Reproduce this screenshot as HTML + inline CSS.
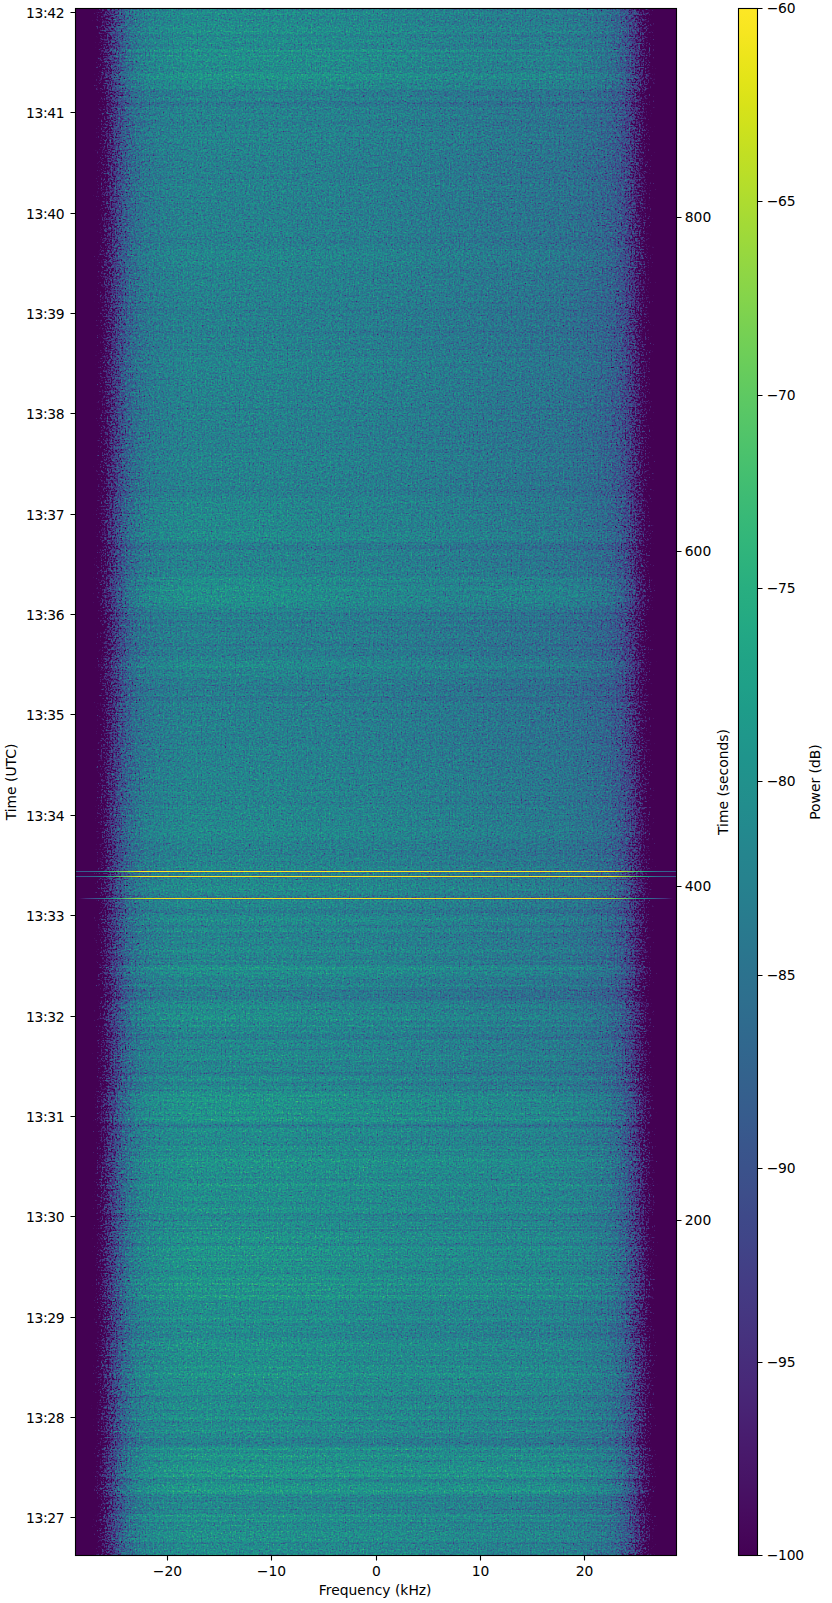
<!DOCTYPE html>
<html lang="en"><head><meta charset="utf-8"><title>Spectrogram</title>
<style>
html,body{margin:0;padding:0;background:#fff}
body{width:832px;height:1603px;position:relative;overflow:hidden;font-family:"DejaVu Sans","Liberation Sans",sans-serif;font-size:13.889px;color:#000}
.t{position:absolute;white-space:nowrap;line-height:16px;height:16px}
.yl{text-align:right;width:60px;left:4.4px;letter-spacing:-0.3px}
.yr{left:684.7px;letter-spacing:0.1px}
.cb{left:766.8px;letter-spacing:-0.3px}
.xl{text-align:center;width:60px}
.rot{transform:rotate(-90deg);transform-origin:center center;text-align:center;width:200px}
svg{position:absolute;left:0;top:0}
</style></head><body>
<svg width="832" height="1603" viewBox="0 0 832 1603">
<defs>
<linearGradient id="hg" gradientUnits="userSpaceOnUse" x1="76" y1="0" x2="676" y2="0">
<stop offset="0.00000" stop-color="rgb(0,0,242)"/><stop offset="0.00167" stop-color="rgb(0,0,242)"/><stop offset="0.00333" stop-color="rgb(0,0,242)"/><stop offset="0.00500" stop-color="rgb(0,0,242)"/><stop offset="0.00667" stop-color="rgb(1,0,242)"/><stop offset="0.00833" stop-color="rgb(2,0,242)"/><stop offset="0.01000" stop-color="rgb(3,0,242)"/><stop offset="0.01167" stop-color="rgb(4,0,242)"/><stop offset="0.01333" stop-color="rgb(5,0,242)"/><stop offset="0.01500" stop-color="rgb(9,0,242)"/><stop offset="0.01667" stop-color="rgb(14,0,242)"/><stop offset="0.01833" stop-color="rgb(19,0,242)"/><stop offset="0.02000" stop-color="rgb(24,0,242)"/><stop offset="0.02167" stop-color="rgb(28,0,242)"/><stop offset="0.02333" stop-color="rgb(34,0,242)"/><stop offset="0.02500" stop-color="rgb(39,0,242)"/><stop offset="0.02667" stop-color="rgb(44,0,242)"/><stop offset="0.02833" stop-color="rgb(50,0,242)"/><stop offset="0.03000" stop-color="rgb(54,0,242)"/><stop offset="0.03167" stop-color="rgb(58,0,242)"/><stop offset="0.03333" stop-color="rgb(63,0,242)"/><stop offset="0.03500" stop-color="rgb(67,0,242)"/><stop offset="0.03667" stop-color="rgb(71,0,242)"/><stop offset="0.03833" stop-color="rgb(75,0,242)"/><stop offset="0.04000" stop-color="rgb(78,0,242)"/><stop offset="0.04167" stop-color="rgb(81,0,242)"/><stop offset="0.04333" stop-color="rgb(84,0,242)"/><stop offset="0.04500" stop-color="rgb(87,0,242)"/><stop offset="0.04667" stop-color="rgb(90,0,242)"/><stop offset="0.04833" stop-color="rgb(93,0,242)"/><stop offset="0.05000" stop-color="rgb(95,0,242)"/><stop offset="0.05167" stop-color="rgb(99,0,240)"/><stop offset="0.05333" stop-color="rgb(103,0,237)"/><stop offset="0.05500" stop-color="rgb(106,0,235)"/><stop offset="0.05667" stop-color="rgb(110,0,232)"/><stop offset="0.05833" stop-color="rgb(113,0,230)"/><stop offset="0.06000" stop-color="rgb(117,0,227)"/><stop offset="0.06167" stop-color="rgb(120,0,224)"/><stop offset="0.06333" stop-color="rgb(123,0,222)"/><stop offset="0.06500" stop-color="rgb(127,0,219)"/><stop offset="0.06667" stop-color="rgb(130,0,217)"/><stop offset="0.06833" stop-color="rgb(133,0,214)"/><stop offset="0.07000" stop-color="rgb(137,0,212)"/><stop offset="0.07167" stop-color="rgb(140,0,209)"/><stop offset="0.07333" stop-color="rgb(142,0,207)"/><stop offset="0.07500" stop-color="rgb(145,0,204)"/><stop offset="0.07667" stop-color="rgb(148,0,201)"/><stop offset="0.07833" stop-color="rgb(151,0,198)"/><stop offset="0.08000" stop-color="rgb(154,0,195)"/><stop offset="0.08167" stop-color="rgb(157,0,192)"/><stop offset="0.08333" stop-color="rgb(160,0,189)"/><stop offset="0.08500" stop-color="rgb(162,0,186)"/><stop offset="0.08667" stop-color="rgb(165,0,183)"/><stop offset="0.08833" stop-color="rgb(168,0,180)"/><stop offset="0.09000" stop-color="rgb(170,0,177)"/><stop offset="0.09167" stop-color="rgb(172,0,174)"/><stop offset="0.09333" stop-color="rgb(174,0,171)"/><stop offset="0.09500" stop-color="rgb(177,0,168)"/><stop offset="0.09667" stop-color="rgb(179,0,165)"/><stop offset="0.09833" stop-color="rgb(180,0,162)"/><stop offset="0.10000" stop-color="rgb(182,0,159)"/><stop offset="0.10167" stop-color="rgb(184,0,158)"/><stop offset="0.10333" stop-color="rgb(185,0,157)"/><stop offset="0.10500" stop-color="rgb(186,0,156)"/><stop offset="0.10667" stop-color="rgb(187,0,154)"/><stop offset="0.10833" stop-color="rgb(188,0,153)"/><stop offset="0.11000" stop-color="rgb(189,0,152)"/><stop offset="0.11167" stop-color="rgb(190,0,150)"/><stop offset="0.11333" stop-color="rgb(191,0,149)"/><stop offset="0.11500" stop-color="rgb(192,0,148)"/><stop offset="0.11667" stop-color="rgb(193,0,147)"/><stop offset="0.11833" stop-color="rgb(194,0,145)"/><stop offset="0.12000" stop-color="rgb(195,0,144)"/><stop offset="0.12167" stop-color="rgb(195,0,143)"/><stop offset="0.12333" stop-color="rgb(196,0,142)"/><stop offset="0.12500" stop-color="rgb(197,0,140)"/><stop offset="0.12667" stop-color="rgb(198,0,139)"/><stop offset="0.12833" stop-color="rgb(198,0,138)"/><stop offset="0.13000" stop-color="rgb(199,0,136)"/><stop offset="0.13167" stop-color="rgb(200,0,135)"/><stop offset="0.13333" stop-color="rgb(200,0,134)"/><stop offset="0.13500" stop-color="rgb(201,0,134)"/><stop offset="0.13667" stop-color="rgb(201,0,133)"/><stop offset="0.13833" stop-color="rgb(202,0,133)"/><stop offset="0.14000" stop-color="rgb(202,0,133)"/><stop offset="0.14167" stop-color="rgb(202,0,132)"/><stop offset="0.14333" stop-color="rgb(202,0,132)"/><stop offset="0.14500" stop-color="rgb(203,0,132)"/><stop offset="0.14667" stop-color="rgb(203,0,131)"/><stop offset="0.14833" stop-color="rgb(203,0,131)"/><stop offset="0.15000" stop-color="rgb(203,0,131)"/><stop offset="0.15167" stop-color="rgb(204,0,130)"/><stop offset="0.15333" stop-color="rgb(204,0,130)"/><stop offset="0.15500" stop-color="rgb(204,0,130)"/><stop offset="0.15667" stop-color="rgb(204,0,129)"/><stop offset="0.15833" stop-color="rgb(205,0,129)"/><stop offset="0.16000" stop-color="rgb(205,0,129)"/><stop offset="0.16167" stop-color="rgb(205,0,128)"/><stop offset="0.16333" stop-color="rgb(206,0,128)"/><stop offset="0.16500" stop-color="rgb(206,0,128)"/><stop offset="0.16667" stop-color="rgb(206,0,128)"/><stop offset="0.16833" stop-color="rgb(206,0,128)"/><stop offset="0.17000" stop-color="rgb(206,0,128)"/><stop offset="0.17167" stop-color="rgb(206,0,128)"/><stop offset="0.17333" stop-color="rgb(206,0,128)"/><stop offset="0.17500" stop-color="rgb(206,0,128)"/><stop offset="0.17667" stop-color="rgb(206,0,128)"/><stop offset="0.17833" stop-color="rgb(206,0,128)"/><stop offset="0.18000" stop-color="rgb(206,0,128)"/><stop offset="0.18167" stop-color="rgb(207,0,128)"/><stop offset="0.18333" stop-color="rgb(207,0,128)"/><stop offset="0.18500" stop-color="rgb(207,0,128)"/><stop offset="0.18667" stop-color="rgb(207,0,128)"/><stop offset="0.18833" stop-color="rgb(207,0,128)"/><stop offset="0.19000" stop-color="rgb(207,0,128)"/><stop offset="0.19167" stop-color="rgb(207,0,128)"/><stop offset="0.19333" stop-color="rgb(207,0,128)"/><stop offset="0.19500" stop-color="rgb(207,0,128)"/><stop offset="0.19667" stop-color="rgb(207,0,128)"/><stop offset="0.19833" stop-color="rgb(207,0,128)"/><stop offset="0.20000" stop-color="rgb(207,0,128)"/><stop offset="0.20167" stop-color="rgb(207,0,128)"/><stop offset="0.20333" stop-color="rgb(207,0,128)"/><stop offset="0.20500" stop-color="rgb(207,0,128)"/><stop offset="0.20667" stop-color="rgb(207,0,128)"/><stop offset="0.20833" stop-color="rgb(207,0,128)"/><stop offset="0.21000" stop-color="rgb(207,0,128)"/><stop offset="0.21167" stop-color="rgb(207,0,128)"/><stop offset="0.21333" stop-color="rgb(207,0,128)"/><stop offset="0.21500" stop-color="rgb(207,0,128)"/><stop offset="0.21667" stop-color="rgb(207,0,128)"/><stop offset="0.21833" stop-color="rgb(207,0,128)"/><stop offset="0.22000" stop-color="rgb(207,0,128)"/><stop offset="0.22167" stop-color="rgb(207,0,128)"/><stop offset="0.22333" stop-color="rgb(207,0,128)"/><stop offset="0.22500" stop-color="rgb(207,0,128)"/><stop offset="0.22667" stop-color="rgb(207,0,128)"/><stop offset="0.22833" stop-color="rgb(207,0,128)"/><stop offset="0.23000" stop-color="rgb(207,0,128)"/><stop offset="0.23167" stop-color="rgb(207,0,128)"/><stop offset="0.23333" stop-color="rgb(207,0,128)"/><stop offset="0.23500" stop-color="rgb(207,0,128)"/><stop offset="0.23667" stop-color="rgb(207,0,128)"/><stop offset="0.23833" stop-color="rgb(207,0,128)"/><stop offset="0.24000" stop-color="rgb(207,0,128)"/><stop offset="0.25000" stop-color="rgb(207,0,128)"/><stop offset="0.26667" stop-color="rgb(207,0,128)"/><stop offset="0.28333" stop-color="rgb(207,0,128)"/><stop offset="0.30000" stop-color="rgb(207,0,128)"/><stop offset="0.31667" stop-color="rgb(207,0,128)"/><stop offset="0.33333" stop-color="rgb(207,0,128)"/><stop offset="0.35000" stop-color="rgb(207,0,128)"/><stop offset="0.36667" stop-color="rgb(206,0,128)"/><stop offset="0.38333" stop-color="rgb(206,0,128)"/><stop offset="0.40000" stop-color="rgb(206,0,128)"/><stop offset="0.41667" stop-color="rgb(206,0,128)"/><stop offset="0.43333" stop-color="rgb(206,0,128)"/><stop offset="0.45000" stop-color="rgb(205,0,128)"/><stop offset="0.46667" stop-color="rgb(205,0,128)"/><stop offset="0.48333" stop-color="rgb(205,0,128)"/><stop offset="0.50000" stop-color="rgb(205,0,128)"/><stop offset="0.51667" stop-color="rgb(204,0,128)"/><stop offset="0.53333" stop-color="rgb(204,0,128)"/><stop offset="0.55000" stop-color="rgb(204,0,128)"/><stop offset="0.56667" stop-color="rgb(203,0,128)"/><stop offset="0.58333" stop-color="rgb(203,0,128)"/><stop offset="0.60000" stop-color="rgb(203,0,128)"/><stop offset="0.61667" stop-color="rgb(202,0,128)"/><stop offset="0.63333" stop-color="rgb(202,0,128)"/><stop offset="0.65000" stop-color="rgb(202,0,128)"/><stop offset="0.66667" stop-color="rgb(201,0,128)"/><stop offset="0.68333" stop-color="rgb(201,0,128)"/><stop offset="0.70000" stop-color="rgb(200,0,128)"/><stop offset="0.71667" stop-color="rgb(200,0,128)"/><stop offset="0.73333" stop-color="rgb(200,0,128)"/><stop offset="0.75000" stop-color="rgb(199,0,128)"/><stop offset="0.76000" stop-color="rgb(199,0,128)"/><stop offset="0.76167" stop-color="rgb(199,0,128)"/><stop offset="0.76333" stop-color="rgb(199,0,128)"/><stop offset="0.76500" stop-color="rgb(199,0,128)"/><stop offset="0.76667" stop-color="rgb(199,0,128)"/><stop offset="0.76833" stop-color="rgb(199,0,128)"/><stop offset="0.77000" stop-color="rgb(199,0,128)"/><stop offset="0.77167" stop-color="rgb(199,0,128)"/><stop offset="0.77333" stop-color="rgb(199,0,128)"/><stop offset="0.77500" stop-color="rgb(199,0,128)"/><stop offset="0.77667" stop-color="rgb(199,0,128)"/><stop offset="0.77833" stop-color="rgb(199,0,128)"/><stop offset="0.78000" stop-color="rgb(199,0,128)"/><stop offset="0.78167" stop-color="rgb(199,0,128)"/><stop offset="0.78333" stop-color="rgb(199,0,128)"/><stop offset="0.78500" stop-color="rgb(198,0,128)"/><stop offset="0.78667" stop-color="rgb(198,0,128)"/><stop offset="0.78833" stop-color="rgb(198,0,128)"/><stop offset="0.79000" stop-color="rgb(198,0,128)"/><stop offset="0.79167" stop-color="rgb(198,0,128)"/><stop offset="0.79333" stop-color="rgb(198,0,128)"/><stop offset="0.79500" stop-color="rgb(198,0,128)"/><stop offset="0.79667" stop-color="rgb(198,0,128)"/><stop offset="0.79833" stop-color="rgb(198,0,128)"/><stop offset="0.80000" stop-color="rgb(198,0,128)"/><stop offset="0.80167" stop-color="rgb(198,0,128)"/><stop offset="0.80333" stop-color="rgb(198,0,128)"/><stop offset="0.80500" stop-color="rgb(198,0,128)"/><stop offset="0.80667" stop-color="rgb(198,0,128)"/><stop offset="0.80833" stop-color="rgb(198,0,128)"/><stop offset="0.81000" stop-color="rgb(198,0,128)"/><stop offset="0.81167" stop-color="rgb(197,0,128)"/><stop offset="0.81333" stop-color="rgb(197,0,128)"/><stop offset="0.81500" stop-color="rgb(197,0,128)"/><stop offset="0.81667" stop-color="rgb(197,0,128)"/><stop offset="0.81833" stop-color="rgb(197,0,128)"/><stop offset="0.82000" stop-color="rgb(197,0,128)"/><stop offset="0.82167" stop-color="rgb(197,0,128)"/><stop offset="0.82333" stop-color="rgb(197,0,128)"/><stop offset="0.82500" stop-color="rgb(197,0,128)"/><stop offset="0.82667" stop-color="rgb(197,0,128)"/><stop offset="0.82833" stop-color="rgb(196,0,128)"/><stop offset="0.83000" stop-color="rgb(196,0,128)"/><stop offset="0.83167" stop-color="rgb(196,0,128)"/><stop offset="0.83333" stop-color="rgb(196,0,128)"/><stop offset="0.83500" stop-color="rgb(196,0,128)"/><stop offset="0.83667" stop-color="rgb(196,0,128)"/><stop offset="0.83833" stop-color="rgb(195,0,128)"/><stop offset="0.84000" stop-color="rgb(195,0,129)"/><stop offset="0.84167" stop-color="rgb(195,0,129)"/><stop offset="0.84333" stop-color="rgb(194,0,129)"/><stop offset="0.84500" stop-color="rgb(194,0,130)"/><stop offset="0.84667" stop-color="rgb(194,0,130)"/><stop offset="0.84833" stop-color="rgb(194,0,130)"/><stop offset="0.85000" stop-color="rgb(193,0,131)"/><stop offset="0.85167" stop-color="rgb(193,0,131)"/><stop offset="0.85333" stop-color="rgb(193,0,131)"/><stop offset="0.85500" stop-color="rgb(192,0,132)"/><stop offset="0.85667" stop-color="rgb(192,0,132)"/><stop offset="0.85833" stop-color="rgb(192,0,132)"/><stop offset="0.86000" stop-color="rgb(191,0,133)"/><stop offset="0.86167" stop-color="rgb(191,0,133)"/><stop offset="0.86333" stop-color="rgb(191,0,133)"/><stop offset="0.86500" stop-color="rgb(190,0,134)"/><stop offset="0.86667" stop-color="rgb(190,0,134)"/><stop offset="0.86833" stop-color="rgb(189,0,135)"/><stop offset="0.87000" stop-color="rgb(188,0,136)"/><stop offset="0.87167" stop-color="rgb(188,0,138)"/><stop offset="0.87333" stop-color="rgb(187,0,139)"/><stop offset="0.87500" stop-color="rgb(186,0,140)"/><stop offset="0.87667" stop-color="rgb(185,0,142)"/><stop offset="0.87833" stop-color="rgb(184,0,143)"/><stop offset="0.88000" stop-color="rgb(184,0,144)"/><stop offset="0.88167" stop-color="rgb(183,0,145)"/><stop offset="0.88333" stop-color="rgb(182,0,147)"/><stop offset="0.88500" stop-color="rgb(181,0,148)"/><stop offset="0.88667" stop-color="rgb(180,0,149)"/><stop offset="0.88833" stop-color="rgb(179,0,150)"/><stop offset="0.89000" stop-color="rgb(178,0,152)"/><stop offset="0.89167" stop-color="rgb(177,0,153)"/><stop offset="0.89333" stop-color="rgb(176,0,154)"/><stop offset="0.89500" stop-color="rgb(175,0,156)"/><stop offset="0.89667" stop-color="rgb(173,0,157)"/><stop offset="0.89833" stop-color="rgb(172,0,158)"/><stop offset="0.90000" stop-color="rgb(171,0,159)"/><stop offset="0.90167" stop-color="rgb(169,0,162)"/><stop offset="0.90333" stop-color="rgb(167,0,165)"/><stop offset="0.90500" stop-color="rgb(165,0,168)"/><stop offset="0.90667" stop-color="rgb(163,0,171)"/><stop offset="0.90833" stop-color="rgb(161,0,174)"/><stop offset="0.91000" stop-color="rgb(158,0,177)"/><stop offset="0.91167" stop-color="rgb(156,0,180)"/><stop offset="0.91333" stop-color="rgb(154,0,183)"/><stop offset="0.91500" stop-color="rgb(151,0,186)"/><stop offset="0.91667" stop-color="rgb(148,0,189)"/><stop offset="0.91833" stop-color="rgb(145,0,192)"/><stop offset="0.92000" stop-color="rgb(142,0,195)"/><stop offset="0.92167" stop-color="rgb(140,0,198)"/><stop offset="0.92333" stop-color="rgb(137,0,201)"/><stop offset="0.92500" stop-color="rgb(133,0,204)"/><stop offset="0.92667" stop-color="rgb(130,0,207)"/><stop offset="0.92833" stop-color="rgb(128,0,209)"/><stop offset="0.93000" stop-color="rgb(125,0,212)"/><stop offset="0.93167" stop-color="rgb(121,0,214)"/><stop offset="0.93333" stop-color="rgb(118,0,217)"/><stop offset="0.93500" stop-color="rgb(115,0,219)"/><stop offset="0.93667" stop-color="rgb(111,0,222)"/><stop offset="0.93833" stop-color="rgb(108,0,224)"/><stop offset="0.94000" stop-color="rgb(105,0,227)"/><stop offset="0.94167" stop-color="rgb(101,0,230)"/><stop offset="0.94333" stop-color="rgb(98,0,232)"/><stop offset="0.94500" stop-color="rgb(94,0,235)"/><stop offset="0.94667" stop-color="rgb(91,0,237)"/><stop offset="0.94833" stop-color="rgb(87,0,240)"/><stop offset="0.95000" stop-color="rgb(83,0,242)"/><stop offset="0.95167" stop-color="rgb(80,0,242)"/><stop offset="0.95333" stop-color="rgb(78,0,242)"/><stop offset="0.95500" stop-color="rgb(75,0,242)"/><stop offset="0.95667" stop-color="rgb(72,0,242)"/><stop offset="0.95833" stop-color="rgb(68,0,242)"/><stop offset="0.96000" stop-color="rgb(65,0,242)"/><stop offset="0.96167" stop-color="rgb(62,0,242)"/><stop offset="0.96333" stop-color="rgb(59,0,242)"/><stop offset="0.96500" stop-color="rgb(55,0,242)"/><stop offset="0.96667" stop-color="rgb(50,0,242)"/><stop offset="0.96833" stop-color="rgb(46,0,242)"/><stop offset="0.97000" stop-color="rgb(42,0,242)"/><stop offset="0.97167" stop-color="rgb(37,0,242)"/><stop offset="0.97333" stop-color="rgb(32,0,242)"/><stop offset="0.97500" stop-color="rgb(26,0,242)"/><stop offset="0.97667" stop-color="rgb(21,0,242)"/><stop offset="0.97833" stop-color="rgb(16,0,242)"/><stop offset="0.98000" stop-color="rgb(11,0,242)"/><stop offset="0.98167" stop-color="rgb(6,0,242)"/><stop offset="0.98333" stop-color="rgb(1,0,242)"/><stop offset="0.98500" stop-color="rgb(0,0,242)"/><stop offset="0.98667" stop-color="rgb(0,0,242)"/><stop offset="0.98833" stop-color="rgb(0,0,242)"/><stop offset="0.99000" stop-color="rgb(0,0,242)"/><stop offset="0.99167" stop-color="rgb(0,0,242)"/><stop offset="0.99333" stop-color="rgb(0,0,242)"/><stop offset="0.99500" stop-color="rgb(0,0,242)"/><stop offset="0.99667" stop-color="rgb(0,0,242)"/><stop offset="0.99833" stop-color="rgb(0,0,242)"/><stop offset="1.00000" stop-color="rgb(0,0,242)"/>
</linearGradient>
<linearGradient id="cbg" x1="0" y1="1" x2="0" y2="0"><stop offset="0.0000" stop-color="#440154"/><stop offset="0.0156" stop-color="#46075a"/><stop offset="0.0312" stop-color="#470d60"/><stop offset="0.0469" stop-color="#471365"/><stop offset="0.0625" stop-color="#48186a"/><stop offset="0.0781" stop-color="#481d6f"/><stop offset="0.0938" stop-color="#482374"/><stop offset="0.1094" stop-color="#482878"/><stop offset="0.1250" stop-color="#472d7b"/><stop offset="0.1406" stop-color="#46327e"/><stop offset="0.1562" stop-color="#453781"/><stop offset="0.1719" stop-color="#443b84"/><stop offset="0.1875" stop-color="#424086"/><stop offset="0.2031" stop-color="#404588"/><stop offset="0.2188" stop-color="#3e4989"/><stop offset="0.2344" stop-color="#3d4e8a"/><stop offset="0.2500" stop-color="#3b528b"/><stop offset="0.2656" stop-color="#39568c"/><stop offset="0.2812" stop-color="#375b8d"/><stop offset="0.2969" stop-color="#355f8d"/><stop offset="0.3125" stop-color="#33638d"/><stop offset="0.3281" stop-color="#31678e"/><stop offset="0.3438" stop-color="#2f6b8e"/><stop offset="0.3594" stop-color="#2e6f8e"/><stop offset="0.3750" stop-color="#2c728e"/><stop offset="0.3906" stop-color="#2a768e"/><stop offset="0.4062" stop-color="#297a8e"/><stop offset="0.4219" stop-color="#277e8e"/><stop offset="0.4375" stop-color="#26828e"/><stop offset="0.4531" stop-color="#25858e"/><stop offset="0.4688" stop-color="#23898e"/><stop offset="0.4844" stop-color="#228d8d"/><stop offset="0.5000" stop-color="#21918c"/><stop offset="0.5156" stop-color="#1f948c"/><stop offset="0.5312" stop-color="#1f988b"/><stop offset="0.5469" stop-color="#1e9c89"/><stop offset="0.5625" stop-color="#1fa088"/><stop offset="0.5781" stop-color="#20a386"/><stop offset="0.5938" stop-color="#22a785"/><stop offset="0.6094" stop-color="#25ab82"/><stop offset="0.6250" stop-color="#28ae80"/><stop offset="0.6406" stop-color="#2db27d"/><stop offset="0.6562" stop-color="#32b67a"/><stop offset="0.6719" stop-color="#38b977"/><stop offset="0.6875" stop-color="#3fbc73"/><stop offset="0.7031" stop-color="#46c06f"/><stop offset="0.7188" stop-color="#4ec36b"/><stop offset="0.7344" stop-color="#56c667"/><stop offset="0.7500" stop-color="#5ec962"/><stop offset="0.7656" stop-color="#67cc5c"/><stop offset="0.7812" stop-color="#70cf57"/><stop offset="0.7969" stop-color="#7ad151"/><stop offset="0.8125" stop-color="#84d44b"/><stop offset="0.8281" stop-color="#8ed645"/><stop offset="0.8438" stop-color="#98d83e"/><stop offset="0.8594" stop-color="#a2da37"/><stop offset="0.8750" stop-color="#addc30"/><stop offset="0.8906" stop-color="#b8de29"/><stop offset="0.9062" stop-color="#c2df23"/><stop offset="0.9219" stop-color="#cde11d"/><stop offset="0.9375" stop-color="#d8e219"/><stop offset="0.9531" stop-color="#e2e418"/><stop offset="0.9688" stop-color="#ece51b"/><stop offset="0.9844" stop-color="#f6e620"/><stop offset="1.0000" stop-color="#fde725"/></linearGradient>
<filter id="sp" filterUnits="userSpaceOnUse" x="76" y="9" width="600" height="1546" color-interpolation-filters="sRGB">
<feColorMatrix in="SourceGraphic" type="matrix" values=".5 .5 0 0 0  .5 .5 0 0 0  .5 .5 0 0 0  0 0 0 0 1" result="L"/>
<feColorMatrix in="SourceGraphic" type="matrix" values="0 0 1 0 0  0 0 1 0 0  0 0 1 0 0  0 0 0 0 1" result="Gn"/>
<feTurbulence type="fractalNoise" baseFrequency="0.71 0.83" numOctaves="1" seed="3" result="a0"/>
<feColorMatrix in="a0" type="matrix" values=".6 .6 .6 0 -.4  .6 .6 .6 0 -.4  .6 .6 .6 0 -.4  0 0 0 0 1" result="a1"/>
<feTurbulence type="fractalNoise" baseFrequency="0.79 0.67" numOctaves="1" seed="11" result="b0"/>
<feColorMatrix in="b0" type="matrix" values=".6 .6 .6 0 -.4  .6 .6 .6 0 -.4  .6 .6 .6 0 -.4  0 0 0 0 1" result="b1"/>
<feComposite in="a1" in2="b1" operator="arithmetic" k1="0" k2="0.75" k3="0.75" k4="-0.25" result="n0"/>
<feConvolveMatrix in="n0" order="3" kernelMatrix="0.0144 0.0912 0.0144 0.0912 0.5776 0.0912 0.0144 0.0912 0.0144" divisor="1" bias="0" edgeMode="duplicate" preserveAlpha="true" result="nb"/>
<feColorMatrix in="nb" type="matrix" values="1.6 0 0 0 -.3  1.6 0 0 0 -.3  1.6 0 0 0 -.3  0 0 0 0 1" result="n1"/>
<feComponentTransfer in="n1" result="n2"><feFuncR type="table" tableValues="0.0000 0.0000 0.0000 0.0000 0.0000 0.0000 0.0000 0.0000 0.0000 0.0000 0.0000 0.0000 0.0000 0.0000 0.0000 0.0028 0.0180 0.0172 0.0299 0.0286 0.0403 0.0517 0.0513 0.0577 0.0683 0.0677 0.0770 0.0766 0.0831 0.0956 0.0954 0.1015 0.1135 0.1131 0.1228 0.1223 0.1294 0.1405 0.1401 0.1468 0.1577 0.1575 0.1655 0.1650 0.1710 0.1826 0.1825 0.1887 0.1997 0.1994 0.2082 0.2079 0.2145 0.2250 0.2247 0.2308 0.2411 0.2408 0.2491 0.2489 0.2544 0.2649 0.2647 0.2705 0.2806 0.2803 0.2884 0.2882 0.2939 0.3037 0.3035 0.3094 0.3187 0.3185 0.3260 0.3259 0.3312 0.3405 0.3404 0.3457 0.3550 0.3549 0.3623 0.3622 0.3676 0.3766 0.3764 0.3817 0.3906 0.3905 0.3976 0.3974 0.4026 0.4114 0.4113 0.4164 0.4250 0.4249 0.4318 0.4317 0.4367 0.4451 0.4450 0.4500 0.4582 0.4581 0.4647 0.4646 0.4695 0.4776 0.4775 0.4824 0.4903 0.4903 0.4967 0.4967 0.5013 0.5093 0.5092 0.5140 0.5218 0.5218 0.5281 0.5281 0.5327 0.5403 0.5403 0.5449 0.5525 0.5525 0.5585 0.5585 0.5629 0.5702 0.5702 0.5746 0.5818 0.5818 0.5875 0.5875 0.5918 0.5987 0.5988 0.6029 0.6096 0.6097 0.6150 0.6150 0.6190 0.6255 0.6256 0.6295 0.6358 0.6359 0.6409 0.6410 0.6447 0.6509 0.6509 0.6546 0.6607 0.6608 0.6656 0.6657 0.6693 0.6752 0.6753 0.6788 0.6846 0.6846 0.6893 0.6894 0.6927 0.6983 0.6983 0.7018 0.7072 0.7073 0.7117 0.7119 0.7151 0.7205 0.7206 0.7238 0.7292 0.7293 0.7335 0.7336 0.7368 0.7419 0.7420 0.7451 0.7501 0.7502 0.7542 0.7543 0.7575 0.7626 0.7627 0.7659 0.7709 0.7711 0.7747 0.7747 0.7779 0.7826 0.7828 0.7856 0.7903 0.7905 0.7940 0.7941 0.7968 0.8014 0.8015 0.8047 0.8090 0.8091 0.8125 0.8126 0.8155 0.8201 0.8204 0.8227 0.8269 0.8270 0.8309 0.8312 0.8337 0.8375 0.8374 0.8402 0.8456 0.8464 0.8487 0.8485 0.8514 0.8547 0.8545 0.8572 0.8631 0.8638 0.8674 0.8679 0.8694 0.8750 0.8753 0.8801 0.8841 0.8841 0.8858 0.8858 0.8858 0.8858 0.8858 0.8858"/><feFuncG type="table" tableValues="0.0000 0.0000 0.0000 0.0000 0.0000 0.0000 0.0000 0.0000 0.0000 0.0000 0.0000 0.0000 0.0000 0.0000 0.0000 0.0028 0.0180 0.0172 0.0299 0.0286 0.0403 0.0517 0.0513 0.0577 0.0683 0.0677 0.0770 0.0766 0.0831 0.0956 0.0954 0.1015 0.1135 0.1131 0.1228 0.1223 0.1294 0.1405 0.1401 0.1468 0.1577 0.1575 0.1655 0.1650 0.1710 0.1826 0.1825 0.1887 0.1997 0.1994 0.2082 0.2079 0.2145 0.2250 0.2247 0.2308 0.2411 0.2408 0.2491 0.2489 0.2544 0.2649 0.2647 0.2705 0.2806 0.2803 0.2884 0.2882 0.2939 0.3037 0.3035 0.3094 0.3187 0.3185 0.3260 0.3259 0.3312 0.3405 0.3404 0.3457 0.3550 0.3549 0.3623 0.3622 0.3676 0.3766 0.3764 0.3817 0.3906 0.3905 0.3976 0.3974 0.4026 0.4114 0.4113 0.4164 0.4250 0.4249 0.4318 0.4317 0.4367 0.4451 0.4450 0.4500 0.4582 0.4581 0.4647 0.4646 0.4695 0.4776 0.4775 0.4824 0.4903 0.4903 0.4967 0.4967 0.5013 0.5093 0.5092 0.5140 0.5218 0.5218 0.5281 0.5281 0.5327 0.5403 0.5403 0.5449 0.5525 0.5525 0.5585 0.5585 0.5629 0.5702 0.5702 0.5746 0.5818 0.5818 0.5875 0.5875 0.5918 0.5987 0.5988 0.6029 0.6096 0.6097 0.6150 0.6150 0.6190 0.6255 0.6256 0.6295 0.6358 0.6359 0.6409 0.6410 0.6447 0.6509 0.6509 0.6546 0.6607 0.6608 0.6656 0.6657 0.6693 0.6752 0.6753 0.6788 0.6846 0.6846 0.6893 0.6894 0.6927 0.6983 0.6983 0.7018 0.7072 0.7073 0.7117 0.7119 0.7151 0.7205 0.7206 0.7238 0.7292 0.7293 0.7335 0.7336 0.7368 0.7419 0.7420 0.7451 0.7501 0.7502 0.7542 0.7543 0.7575 0.7626 0.7627 0.7659 0.7709 0.7711 0.7747 0.7747 0.7779 0.7826 0.7828 0.7856 0.7903 0.7905 0.7940 0.7941 0.7968 0.8014 0.8015 0.8047 0.8090 0.8091 0.8125 0.8126 0.8155 0.8201 0.8204 0.8227 0.8269 0.8270 0.8309 0.8312 0.8337 0.8375 0.8374 0.8402 0.8456 0.8464 0.8487 0.8485 0.8514 0.8547 0.8545 0.8572 0.8631 0.8638 0.8674 0.8679 0.8694 0.8750 0.8753 0.8801 0.8841 0.8841 0.8858 0.8858 0.8858 0.8858 0.8858 0.8858"/><feFuncB type="table" tableValues="0.0000 0.0000 0.0000 0.0000 0.0000 0.0000 0.0000 0.0000 0.0000 0.0000 0.0000 0.0000 0.0000 0.0000 0.0000 0.0028 0.0180 0.0172 0.0299 0.0286 0.0403 0.0517 0.0513 0.0577 0.0683 0.0677 0.0770 0.0766 0.0831 0.0956 0.0954 0.1015 0.1135 0.1131 0.1228 0.1223 0.1294 0.1405 0.1401 0.1468 0.1577 0.1575 0.1655 0.1650 0.1710 0.1826 0.1825 0.1887 0.1997 0.1994 0.2082 0.2079 0.2145 0.2250 0.2247 0.2308 0.2411 0.2408 0.2491 0.2489 0.2544 0.2649 0.2647 0.2705 0.2806 0.2803 0.2884 0.2882 0.2939 0.3037 0.3035 0.3094 0.3187 0.3185 0.3260 0.3259 0.3312 0.3405 0.3404 0.3457 0.3550 0.3549 0.3623 0.3622 0.3676 0.3766 0.3764 0.3817 0.3906 0.3905 0.3976 0.3974 0.4026 0.4114 0.4113 0.4164 0.4250 0.4249 0.4318 0.4317 0.4367 0.4451 0.4450 0.4500 0.4582 0.4581 0.4647 0.4646 0.4695 0.4776 0.4775 0.4824 0.4903 0.4903 0.4967 0.4967 0.5013 0.5093 0.5092 0.5140 0.5218 0.5218 0.5281 0.5281 0.5327 0.5403 0.5403 0.5449 0.5525 0.5525 0.5585 0.5585 0.5629 0.5702 0.5702 0.5746 0.5818 0.5818 0.5875 0.5875 0.5918 0.5987 0.5988 0.6029 0.6096 0.6097 0.6150 0.6150 0.6190 0.6255 0.6256 0.6295 0.6358 0.6359 0.6409 0.6410 0.6447 0.6509 0.6509 0.6546 0.6607 0.6608 0.6656 0.6657 0.6693 0.6752 0.6753 0.6788 0.6846 0.6846 0.6893 0.6894 0.6927 0.6983 0.6983 0.7018 0.7072 0.7073 0.7117 0.7119 0.7151 0.7205 0.7206 0.7238 0.7292 0.7293 0.7335 0.7336 0.7368 0.7419 0.7420 0.7451 0.7501 0.7502 0.7542 0.7543 0.7575 0.7626 0.7627 0.7659 0.7709 0.7711 0.7747 0.7747 0.7779 0.7826 0.7828 0.7856 0.7903 0.7905 0.7940 0.7941 0.7968 0.8014 0.8015 0.8047 0.8090 0.8091 0.8125 0.8126 0.8155 0.8201 0.8204 0.8227 0.8269 0.8270 0.8309 0.8312 0.8337 0.8375 0.8374 0.8402 0.8456 0.8464 0.8487 0.8485 0.8514 0.8547 0.8545 0.8572 0.8631 0.8638 0.8674 0.8679 0.8694 0.8750 0.8753 0.8801 0.8841 0.8841 0.8858 0.8858 0.8858 0.8858 0.8858 0.8858"/></feComponentTransfer>
<feComposite in="Gn" in2="n2" operator="arithmetic" k1="1" k2="0" k3="0" k4="0" result="P"/>
<feComposite in="L" in2="P" operator="arithmetic" k1="0" k2="1" k3="0.36923" k4="0" result="S"/>
<feComponentTransfer in="S"><feFuncR type="table" tableValues="0.2670 0.2670 0.2670 0.2670 0.2670 0.2670 0.2670 0.2670 0.2670 0.2670 0.2670 0.2670 0.2670 0.2670 0.2670 0.2670 0.2670 0.2670 0.2670 0.2670 0.2670 0.2670 0.2670 0.2670 0.2670 0.2670 0.2670 0.2670 0.2670 0.2670 0.2670 0.2670 0.2670 0.2670 0.2670 0.2670 0.2670 0.2670 0.2670 0.2670 0.2670 0.2670 0.2670 0.2670 0.2670 0.2670 0.2670 0.2670 0.2670 0.2670 0.2670 0.2670 0.2670 0.2670 0.2670 0.2670 0.2670 0.2670 0.2670 0.2670 0.2670 0.2670 0.2670 0.2670 0.2670 0.2670 0.2670 0.2670 0.2670 0.2670 0.2670 0.2670 0.2670 0.2670 0.2670 0.2670 0.2670 0.2670 0.2670 0.2670 0.2670 0.2670 0.2670 0.2670 0.2670 0.2670 0.2750 0.2803 0.2831 0.2826 0.2788 0.2730 0.2651 0.2539 0.2431 0.2297 0.2181 0.2068 0.1941 0.1839 0.1727 0.1636 0.1548 0.1448 0.1364 0.1276 0.1218 0.1194 0.1234 0.1347 0.1579 0.1858 0.2201 0.2669 0.3119 0.3692 0.4219 0.4775 0.5455 0.6060 0.6785 0.7414 0.8042 0.8762 0.9359 0.9932 0.9932 0.9932 0.9932 0.9932 0.9932"/><feFuncG type="table" tableValues="0.0049 0.0049 0.0049 0.0049 0.0049 0.0049 0.0049 0.0049 0.0049 0.0049 0.0049 0.0049 0.0049 0.0049 0.0049 0.0049 0.0049 0.0049 0.0049 0.0049 0.0049 0.0049 0.0049 0.0049 0.0049 0.0049 0.0049 0.0049 0.0049 0.0049 0.0049 0.0049 0.0049 0.0049 0.0049 0.0049 0.0049 0.0049 0.0049 0.0049 0.0049 0.0049 0.0049 0.0049 0.0049 0.0049 0.0049 0.0049 0.0049 0.0049 0.0049 0.0049 0.0049 0.0049 0.0049 0.0049 0.0049 0.0049 0.0049 0.0049 0.0049 0.0049 0.0049 0.0049 0.0049 0.0049 0.0049 0.0049 0.0049 0.0049 0.0049 0.0049 0.0049 0.0049 0.0049 0.0049 0.0049 0.0049 0.0049 0.0049 0.0049 0.0049 0.0049 0.0049 0.0049 0.0049 0.0378 0.0734 0.1106 0.1409 0.1755 0.2045 0.2330 0.2653 0.2921 0.3224 0.3474 0.3718 0.3993 0.4224 0.4488 0.4711 0.4933 0.5191 0.5412 0.5669 0.5891 0.6111 0.6368 0.6586 0.6838 0.7049 0.7255 0.7488 0.7678 0.7889 0.8058 0.8214 0.8380 0.8507 0.8637 0.8734 0.8820 0.8911 0.8986 0.9062 0.9062 0.9062 0.9062 0.9062 0.9062"/><feFuncB type="table" tableValues="0.3294 0.3294 0.3294 0.3294 0.3294 0.3294 0.3294 0.3294 0.3294 0.3294 0.3294 0.3294 0.3294 0.3294 0.3294 0.3294 0.3294 0.3294 0.3294 0.3294 0.3294 0.3294 0.3294 0.3294 0.3294 0.3294 0.3294 0.3294 0.3294 0.3294 0.3294 0.3294 0.3294 0.3294 0.3294 0.3294 0.3294 0.3294 0.3294 0.3294 0.3294 0.3294 0.3294 0.3294 0.3294 0.3294 0.3294 0.3294 0.3294 0.3294 0.3294 0.3294 0.3294 0.3294 0.3294 0.3294 0.3294 0.3294 0.3294 0.3294 0.3294 0.3294 0.3294 0.3294 0.3294 0.3294 0.3294 0.3294 0.3294 0.3294 0.3294 0.3294 0.3294 0.3294 0.3294 0.3294 0.3294 0.3294 0.3294 0.3294 0.3294 0.3294 0.3294 0.3294 0.3294 0.3294 0.3645 0.3972 0.4316 0.4575 0.4834 0.5017 0.5166 0.5300 0.5385 0.5457 0.5500 0.5531 0.5556 0.5569 0.5579 0.5581 0.5578 0.5566 0.5545 0.5506 0.5456 0.5390 0.5288 0.5176 0.5017 0.4853 0.4662 0.4406 0.4156 0.3829 0.3519 0.3182 0.2756 0.2367 0.1895 0.1496 0.1150 0.0953 0.1081 0.1439 0.1439 0.1439 0.1439 0.1439 0.1439"/><feFuncA type="linear" slope="0" intercept="1"/></feComponentTransfer>
</filter>
</defs>
<g filter="url(#sp)" style="isolation:isolate">
<rect x="76" y="9" width="600" height="1546" fill="url(#hg)"/>
<g style="mix-blend-mode:screen" shape-rendering="crispEdges">
<rect x="76" y="9" width="600" height="1" fill="rgb(0,144,0)"/><rect x="76" y="10" width="600" height="2" fill="rgb(0,147,0)"/><rect x="76" y="12" width="600" height="3" fill="rgb(0,151,0)"/><rect x="76" y="15" width="600" height="2" fill="rgb(0,148,0)"/><rect x="76" y="17" width="600" height="1" fill="rgb(0,145,0)"/><rect x="76" y="18" width="600" height="1" fill="rgb(0,146,0)"/><rect x="76" y="19" width="600" height="1" fill="rgb(0,148,0)"/><rect x="76" y="20" width="600" height="2" fill="rgb(0,147,0)"/><rect x="76" y="22" width="600" height="2" fill="rgb(0,146,0)"/><rect x="76" y="24" width="600" height="2" fill="rgb(0,149,0)"/><rect x="76" y="26" width="600" height="1" fill="rgb(0,148,0)"/><rect x="76" y="27" width="600" height="2" fill="rgb(0,150,0)"/><rect x="76" y="29" width="600" height="1" fill="rgb(0,148,0)"/><rect x="76" y="30" width="600" height="4" fill="rgb(0,151,0)"/><rect x="76" y="34" width="600" height="1" fill="rgb(0,146,0)"/><rect x="76" y="35" width="600" height="2" fill="rgb(0,143,0)"/><rect x="76" y="37" width="600" height="2" fill="rgb(0,147,0)"/><rect x="76" y="39" width="600" height="3" fill="rgb(0,149,0)"/><rect x="76" y="42" width="600" height="2" fill="rgb(0,148,0)"/><rect x="76" y="44" width="600" height="1" fill="rgb(0,146,0)"/><rect x="76" y="45" width="600" height="2" fill="rgb(0,144,0)"/><rect x="76" y="47" width="600" height="1" fill="rgb(0,146,0)"/><rect x="76" y="48" width="600" height="1" fill="rgb(0,147,0)"/><rect x="76" y="49" width="600" height="1" fill="rgb(0,150,0)"/><rect x="76" y="50" width="600" height="2" fill="rgb(0,156,0)"/><rect x="76" y="52" width="600" height="2" fill="rgb(0,146,0)"/><rect x="76" y="54" width="600" height="1" fill="rgb(0,148,0)"/><rect x="76" y="55" width="600" height="2" fill="rgb(0,153,0)"/><rect x="76" y="57" width="600" height="2" fill="rgb(0,148,0)"/><rect x="76" y="59" width="600" height="1" fill="rgb(0,150,0)"/><rect x="76" y="60" width="600" height="2" fill="rgb(0,151,0)"/><rect x="76" y="62" width="600" height="2" fill="rgb(0,147,0)"/><rect x="76" y="64" width="600" height="1" fill="rgb(0,148,0)"/><rect x="76" y="65" width="600" height="4" fill="rgb(0,149,0)"/><rect x="76" y="69" width="600" height="1" fill="rgb(0,144,0)"/><rect x="76" y="70" width="600" height="1" fill="rgb(0,147,0)"/><rect x="76" y="71" width="600" height="1" fill="rgb(0,148,0)"/><rect x="76" y="72" width="600" height="2" fill="rgb(0,150,0)"/><rect x="76" y="74" width="600" height="1" fill="rgb(0,157,0)"/><rect x="76" y="75" width="600" height="2" fill="rgb(0,154,0)"/><rect x="76" y="77" width="600" height="2" fill="rgb(0,153,0)"/><rect x="76" y="79" width="600" height="1" fill="rgb(0,152,0)"/><rect x="76" y="80" width="600" height="2" fill="rgb(0,151,0)"/><rect x="76" y="82" width="600" height="2" fill="rgb(0,148,0)"/><rect x="76" y="84" width="600" height="1" fill="rgb(0,147,0)"/><rect x="76" y="85" width="600" height="2" fill="rgb(0,150,0)"/><rect x="76" y="87" width="600" height="2" fill="rgb(0,151,0)"/><rect x="76" y="89" width="600" height="1" fill="rgb(0,144,0)"/><rect x="76" y="90" width="600" height="2" fill="rgb(0,142,0)"/><rect x="76" y="92" width="600" height="2" fill="rgb(0,141,0)"/><rect x="76" y="94" width="600" height="3" fill="rgb(0,142,0)"/><rect x="76" y="97" width="600" height="1" fill="rgb(0,144,0)"/><rect x="76" y="98" width="600" height="1" fill="rgb(0,146,0)"/><rect x="76" y="99" width="600" height="1" fill="rgb(0,148,0)"/><rect x="76" y="100" width="600" height="1" fill="rgb(0,145,0)"/><rect x="76" y="101" width="600" height="1" fill="rgb(0,142,0)"/><rect x="76" y="102" width="600" height="2" fill="rgb(0,137,0)"/><rect x="76" y="104" width="600" height="2" fill="rgb(0,140,0)"/><rect x="76" y="106" width="600" height="1" fill="rgb(0,141,0)"/><rect x="76" y="107" width="600" height="2" fill="rgb(0,146,0)"/><rect x="76" y="109" width="600" height="5" fill="rgb(0,144,0)"/><rect x="76" y="114" width="600" height="2" fill="rgb(0,146,0)"/><rect x="76" y="116" width="600" height="1" fill="rgb(0,147,0)"/><rect x="76" y="117" width="600" height="2" fill="rgb(0,145,0)"/><rect x="76" y="119" width="600" height="3" fill="rgb(0,143,0)"/><rect x="76" y="122" width="600" height="2" fill="rgb(0,141,0)"/><rect x="76" y="124" width="600" height="5" fill="rgb(0,144,0)"/><rect x="76" y="129" width="600" height="2" fill="rgb(0,146,0)"/><rect x="76" y="131" width="600" height="3" fill="rgb(0,144,0)"/><rect x="76" y="134" width="600" height="1" fill="rgb(0,147,0)"/><rect x="76" y="135" width="600" height="1" fill="rgb(0,148,0)"/><rect x="76" y="136" width="600" height="1" fill="rgb(0,145,0)"/><rect x="76" y="137" width="600" height="2" fill="rgb(0,143,0)"/><rect x="76" y="139" width="600" height="2" fill="rgb(0,147,0)"/><rect x="76" y="141" width="600" height="1" fill="rgb(0,146,0)"/><rect x="76" y="142" width="600" height="2" fill="rgb(0,144,0)"/><rect x="76" y="144" width="600" height="2" fill="rgb(0,143,0)"/><rect x="76" y="146" width="600" height="1" fill="rgb(0,145,0)"/><rect x="76" y="147" width="600" height="2" fill="rgb(0,144,0)"/><rect x="76" y="149" width="600" height="2" fill="rgb(0,145,0)"/><rect x="76" y="151" width="600" height="1" fill="rgb(0,146,0)"/><rect x="76" y="152" width="600" height="2" fill="rgb(0,144,0)"/><rect x="76" y="154" width="600" height="2" fill="rgb(0,143,0)"/><rect x="76" y="156" width="600" height="1" fill="rgb(0,145,0)"/><rect x="76" y="157" width="600" height="4" fill="rgb(0,143,0)"/><rect x="76" y="161" width="600" height="3" fill="rgb(0,144,0)"/><rect x="76" y="164" width="600" height="2" fill="rgb(0,143,0)"/><rect x="76" y="166" width="600" height="3" fill="rgb(0,142,0)"/><rect x="76" y="169" width="600" height="2" fill="rgb(0,143,0)"/><rect x="76" y="171" width="600" height="1" fill="rgb(0,144,0)"/><rect x="76" y="172" width="600" height="2" fill="rgb(0,145,0)"/><rect x="76" y="174" width="600" height="2" fill="rgb(0,143,0)"/><rect x="76" y="176" width="600" height="1" fill="rgb(0,142,0)"/><rect x="76" y="177" width="600" height="2" fill="rgb(0,141,0)"/><rect x="76" y="179" width="600" height="2" fill="rgb(0,144,0)"/><rect x="76" y="181" width="600" height="1" fill="rgb(0,142,0)"/><rect x="76" y="182" width="600" height="2" fill="rgb(0,144,0)"/><rect x="76" y="184" width="600" height="2" fill="rgb(0,145,0)"/><rect x="76" y="186" width="600" height="1" fill="rgb(0,146,0)"/><rect x="76" y="187" width="600" height="4" fill="rgb(0,145,0)"/><rect x="76" y="191" width="600" height="1" fill="rgb(0,143,0)"/><rect x="76" y="192" width="600" height="4" fill="rgb(0,144,0)"/><rect x="76" y="196" width="600" height="2" fill="rgb(0,143,0)"/><rect x="76" y="198" width="600" height="5" fill="rgb(0,144,0)"/><rect x="76" y="203" width="600" height="5" fill="rgb(0,143,0)"/><rect x="76" y="208" width="600" height="5" fill="rgb(0,144,0)"/><rect x="76" y="213" width="600" height="1" fill="rgb(0,142,0)"/><rect x="76" y="214" width="600" height="2" fill="rgb(0,143,0)"/><rect x="76" y="216" width="600" height="2" fill="rgb(0,144,0)"/><rect x="76" y="218" width="600" height="1" fill="rgb(0,145,0)"/><rect x="76" y="219" width="600" height="2" fill="rgb(0,143,0)"/><rect x="76" y="221" width="600" height="3" fill="rgb(0,144,0)"/><rect x="76" y="224" width="600" height="4" fill="rgb(0,143,0)"/><rect x="76" y="228" width="600" height="1" fill="rgb(0,144,0)"/><rect x="76" y="229" width="600" height="4" fill="rgb(0,145,0)"/><rect x="76" y="233" width="600" height="3" fill="rgb(0,144,0)"/><rect x="76" y="236" width="600" height="3" fill="rgb(0,142,0)"/><rect x="76" y="239" width="600" height="2" fill="rgb(0,143,0)"/><rect x="76" y="241" width="600" height="2" fill="rgb(0,141,0)"/><rect x="76" y="243" width="600" height="1" fill="rgb(0,143,0)"/><rect x="76" y="244" width="600" height="2" fill="rgb(0,144,0)"/><rect x="76" y="246" width="600" height="2" fill="rgb(0,145,0)"/><rect x="76" y="248" width="600" height="1" fill="rgb(0,143,0)"/><rect x="76" y="249" width="600" height="1" fill="rgb(0,145,0)"/><rect x="76" y="250" width="600" height="1" fill="rgb(0,146,0)"/><rect x="76" y="251" width="600" height="2" fill="rgb(0,148,0)"/><rect x="76" y="253" width="600" height="6" fill="rgb(0,147,0)"/><rect x="76" y="259" width="600" height="2" fill="rgb(0,145,0)"/><rect x="76" y="261" width="600" height="2" fill="rgb(0,147,0)"/><rect x="76" y="263" width="600" height="5" fill="rgb(0,146,0)"/><rect x="76" y="268" width="600" height="1" fill="rgb(0,144,0)"/><rect x="76" y="269" width="600" height="2" fill="rgb(0,143,0)"/><rect x="76" y="271" width="600" height="2" fill="rgb(0,144,0)"/><rect x="76" y="273" width="600" height="1" fill="rgb(0,146,0)"/><rect x="76" y="274" width="600" height="2" fill="rgb(0,144,0)"/><rect x="76" y="276" width="600" height="2" fill="rgb(0,143,0)"/><rect x="76" y="278" width="600" height="3" fill="rgb(0,144,0)"/><rect x="76" y="281" width="600" height="2" fill="rgb(0,145,0)"/><rect x="76" y="283" width="600" height="1" fill="rgb(0,144,0)"/><rect x="76" y="284" width="600" height="2" fill="rgb(0,146,0)"/><rect x="76" y="286" width="600" height="1" fill="rgb(0,143,0)"/><rect x="76" y="287" width="600" height="2" fill="rgb(0,145,0)"/><rect x="76" y="289" width="600" height="2" fill="rgb(0,144,0)"/><rect x="76" y="291" width="600" height="2" fill="rgb(0,145,0)"/><rect x="76" y="293" width="600" height="3" fill="rgb(0,142,0)"/><rect x="76" y="296" width="600" height="2" fill="rgb(0,144,0)"/><rect x="76" y="298" width="600" height="2" fill="rgb(0,145,0)"/><rect x="76" y="300" width="600" height="1" fill="rgb(0,146,0)"/><rect x="76" y="301" width="600" height="2" fill="rgb(0,142,0)"/><rect x="76" y="303" width="600" height="2" fill="rgb(0,144,0)"/><rect x="76" y="305" width="600" height="1" fill="rgb(0,146,0)"/><rect x="76" y="306" width="600" height="2" fill="rgb(0,143,0)"/><rect x="76" y="308" width="600" height="2" fill="rgb(0,141,0)"/><rect x="76" y="310" width="600" height="1" fill="rgb(0,140,0)"/><rect x="76" y="311" width="600" height="2" fill="rgb(0,142,0)"/><rect x="76" y="313" width="600" height="2" fill="rgb(0,144,0)"/><rect x="76" y="315" width="600" height="1" fill="rgb(0,141,0)"/><rect x="76" y="316" width="600" height="5" fill="rgb(0,144,0)"/><rect x="76" y="321" width="600" height="2" fill="rgb(0,142,0)"/><rect x="76" y="323" width="600" height="2" fill="rgb(0,143,0)"/><rect x="76" y="325" width="600" height="1" fill="rgb(0,145,0)"/><rect x="76" y="326" width="600" height="2" fill="rgb(0,144,0)"/><rect x="76" y="328" width="600" height="2" fill="rgb(0,142,0)"/><rect x="76" y="330" width="600" height="1" fill="rgb(0,143,0)"/><rect x="76" y="331" width="600" height="2" fill="rgb(0,139,0)"/><rect x="76" y="333" width="600" height="1" fill="rgb(0,142,0)"/><rect x="76" y="334" width="600" height="1" fill="rgb(0,143,0)"/><rect x="76" y="335" width="600" height="1" fill="rgb(0,142,0)"/><rect x="76" y="336" width="600" height="2" fill="rgb(0,144,0)"/><rect x="76" y="338" width="600" height="2" fill="rgb(0,145,0)"/><rect x="76" y="340" width="600" height="1" fill="rgb(0,143,0)"/><rect x="76" y="341" width="600" height="2" fill="rgb(0,142,0)"/><rect x="76" y="343" width="600" height="2" fill="rgb(0,145,0)"/><rect x="76" y="345" width="600" height="1" fill="rgb(0,143,0)"/><rect x="76" y="346" width="600" height="2" fill="rgb(0,141,0)"/><rect x="76" y="348" width="600" height="2" fill="rgb(0,143,0)"/><rect x="76" y="350" width="600" height="1" fill="rgb(0,142,0)"/><rect x="76" y="351" width="600" height="2" fill="rgb(0,146,0)"/><rect x="76" y="353" width="600" height="2" fill="rgb(0,143,0)"/><rect x="76" y="355" width="600" height="1" fill="rgb(0,142,0)"/><rect x="76" y="356" width="600" height="2" fill="rgb(0,144,0)"/><rect x="76" y="358" width="600" height="3" fill="rgb(0,146,0)"/><rect x="76" y="361" width="600" height="2" fill="rgb(0,147,0)"/><rect x="76" y="363" width="600" height="2" fill="rgb(0,145,0)"/><rect x="76" y="365" width="600" height="1" fill="rgb(0,143,0)"/><rect x="76" y="366" width="600" height="2" fill="rgb(0,144,0)"/><rect x="76" y="368" width="600" height="2" fill="rgb(0,146,0)"/><rect x="76" y="370" width="600" height="1" fill="rgb(0,145,0)"/><rect x="76" y="371" width="600" height="2" fill="rgb(0,146,0)"/><rect x="76" y="373" width="600" height="2" fill="rgb(0,144,0)"/><rect x="76" y="375" width="600" height="3" fill="rgb(0,145,0)"/><rect x="76" y="378" width="600" height="2" fill="rgb(0,142,0)"/><rect x="76" y="380" width="600" height="1" fill="rgb(0,146,0)"/><rect x="76" y="381" width="600" height="3" fill="rgb(0,144,0)"/><rect x="76" y="384" width="600" height="4" fill="rgb(0,145,0)"/><rect x="76" y="388" width="600" height="2" fill="rgb(0,143,0)"/><rect x="76" y="390" width="600" height="2" fill="rgb(0,145,0)"/><rect x="76" y="392" width="600" height="1" fill="rgb(0,144,0)"/><rect x="76" y="393" width="600" height="2" fill="rgb(0,145,0)"/><rect x="76" y="395" width="600" height="2" fill="rgb(0,143,0)"/><rect x="76" y="397" width="600" height="1" fill="rgb(0,145,0)"/><rect x="76" y="398" width="600" height="4" fill="rgb(0,143,0)"/><rect x="76" y="402" width="600" height="1" fill="rgb(0,144,0)"/><rect x="76" y="403" width="600" height="2" fill="rgb(0,146,0)"/><rect x="76" y="405" width="600" height="2" fill="rgb(0,144,0)"/><rect x="76" y="407" width="600" height="1" fill="rgb(0,143,0)"/><rect x="76" y="408" width="600" height="2" fill="rgb(0,140,0)"/><rect x="76" y="410" width="600" height="2" fill="rgb(0,144,0)"/><rect x="76" y="412" width="600" height="3" fill="rgb(0,145,0)"/><rect x="76" y="415" width="600" height="3" fill="rgb(0,143,0)"/><rect x="76" y="418" width="600" height="2" fill="rgb(0,145,0)"/><rect x="76" y="420" width="600" height="2" fill="rgb(0,144,0)"/><rect x="76" y="422" width="600" height="3" fill="rgb(0,143,0)"/><rect x="76" y="425" width="600" height="2" fill="rgb(0,142,0)"/><rect x="76" y="427" width="600" height="6" fill="rgb(0,144,0)"/><rect x="76" y="433" width="600" height="4" fill="rgb(0,142,0)"/><rect x="76" y="437" width="600" height="1" fill="rgb(0,143,0)"/><rect x="76" y="438" width="600" height="4" fill="rgb(0,144,0)"/><rect x="76" y="442" width="600" height="1" fill="rgb(0,142,0)"/><rect x="76" y="443" width="600" height="2" fill="rgb(0,144,0)"/><rect x="76" y="445" width="600" height="2" fill="rgb(0,145,0)"/><rect x="76" y="447" width="600" height="1" fill="rgb(0,146,0)"/><rect x="76" y="448" width="600" height="5" fill="rgb(0,142,0)"/><rect x="76" y="453" width="600" height="2" fill="rgb(0,147,0)"/><rect x="76" y="455" width="600" height="2" fill="rgb(0,144,0)"/><rect x="76" y="457" width="600" height="3" fill="rgb(0,145,0)"/><rect x="76" y="460" width="600" height="2" fill="rgb(0,146,0)"/><rect x="76" y="462" width="600" height="3" fill="rgb(0,144,0)"/><rect x="76" y="465" width="600" height="2" fill="rgb(0,146,0)"/><rect x="76" y="467" width="600" height="3" fill="rgb(0,144,0)"/><rect x="76" y="470" width="600" height="2" fill="rgb(0,145,0)"/><rect x="76" y="472" width="600" height="1" fill="rgb(0,144,0)"/><rect x="76" y="473" width="600" height="2" fill="rgb(0,145,0)"/><rect x="76" y="475" width="600" height="2" fill="rgb(0,144,0)"/><rect x="76" y="477" width="600" height="5" fill="rgb(0,143,0)"/><rect x="76" y="482" width="600" height="5" fill="rgb(0,145,0)"/><rect x="76" y="487" width="600" height="2" fill="rgb(0,143,0)"/><rect x="76" y="489" width="600" height="1" fill="rgb(0,141,0)"/><rect x="76" y="490" width="600" height="4" fill="rgb(0,142,0)"/><rect x="76" y="494" width="600" height="1" fill="rgb(0,145,0)"/><rect x="76" y="495" width="600" height="2" fill="rgb(0,144,0)"/><rect x="76" y="497" width="600" height="1" fill="rgb(0,146,0)"/><rect x="76" y="498" width="600" height="1" fill="rgb(0,147,0)"/><rect x="76" y="499" width="600" height="1" fill="rgb(0,146,0)"/><rect x="76" y="500" width="600" height="2" fill="rgb(0,147,0)"/><rect x="76" y="502" width="600" height="2" fill="rgb(0,149,0)"/><rect x="76" y="504" width="600" height="1" fill="rgb(0,144,0)"/><rect x="76" y="505" width="600" height="2" fill="rgb(0,147,0)"/><rect x="76" y="507" width="600" height="2" fill="rgb(0,145,0)"/><rect x="76" y="509" width="600" height="1" fill="rgb(0,148,0)"/><rect x="76" y="510" width="600" height="2" fill="rgb(0,147,0)"/><rect x="76" y="512" width="600" height="2" fill="rgb(0,144,0)"/><rect x="76" y="514" width="600" height="1" fill="rgb(0,149,0)"/><rect x="76" y="515" width="600" height="2" fill="rgb(0,148,0)"/><rect x="76" y="517" width="600" height="2" fill="rgb(0,146,0)"/><rect x="76" y="519" width="600" height="1" fill="rgb(0,147,0)"/><rect x="76" y="520" width="600" height="2" fill="rgb(0,148,0)"/><rect x="76" y="522" width="600" height="3" fill="rgb(0,146,0)"/><rect x="76" y="525" width="600" height="2" fill="rgb(0,147,0)"/><rect x="76" y="527" width="600" height="2" fill="rgb(0,145,0)"/><rect x="76" y="529" width="600" height="1" fill="rgb(0,149,0)"/><rect x="76" y="530" width="600" height="2" fill="rgb(0,147,0)"/><rect x="76" y="532" width="600" height="2" fill="rgb(0,150,0)"/><rect x="76" y="534" width="600" height="1" fill="rgb(0,148,0)"/><rect x="76" y="535" width="600" height="2" fill="rgb(0,151,0)"/><rect x="76" y="537" width="600" height="2" fill="rgb(0,147,0)"/><rect x="76" y="539" width="600" height="1" fill="rgb(0,152,0)"/><rect x="76" y="540" width="600" height="1" fill="rgb(0,150,0)"/><rect x="76" y="541" width="600" height="1" fill="rgb(0,148,0)"/><rect x="76" y="542" width="600" height="2" fill="rgb(0,143,0)"/><rect x="76" y="544" width="600" height="1" fill="rgb(0,145,0)"/><rect x="76" y="545" width="600" height="3" fill="rgb(0,140,0)"/><rect x="76" y="548" width="600" height="1" fill="rgb(0,139,0)"/><rect x="76" y="549" width="600" height="1" fill="rgb(0,142,0)"/><rect x="76" y="550" width="600" height="2" fill="rgb(0,145,0)"/><rect x="76" y="552" width="600" height="2" fill="rgb(0,146,0)"/><rect x="76" y="554" width="600" height="1" fill="rgb(0,150,0)"/><rect x="76" y="555" width="600" height="1" fill="rgb(0,146,0)"/><rect x="76" y="556" width="600" height="3" fill="rgb(0,145,0)"/><rect x="76" y="559" width="600" height="1" fill="rgb(0,142,0)"/><rect x="76" y="560" width="600" height="2" fill="rgb(0,143,0)"/><rect x="76" y="562" width="600" height="2" fill="rgb(0,146,0)"/><rect x="76" y="564" width="600" height="1" fill="rgb(0,144,0)"/><rect x="76" y="565" width="600" height="1" fill="rgb(0,147,0)"/><rect x="76" y="566" width="600" height="1" fill="rgb(0,146,0)"/><rect x="76" y="567" width="600" height="2" fill="rgb(0,144,0)"/><rect x="76" y="569" width="600" height="1" fill="rgb(0,146,0)"/><rect x="76" y="570" width="600" height="2" fill="rgb(0,148,0)"/><rect x="76" y="572" width="600" height="2" fill="rgb(0,146,0)"/><rect x="76" y="574" width="600" height="1" fill="rgb(0,142,0)"/><rect x="76" y="575" width="600" height="1" fill="rgb(0,145,0)"/><rect x="76" y="576" width="600" height="1" fill="rgb(0,146,0)"/><rect x="76" y="577" width="600" height="1" fill="rgb(0,150,0)"/><rect x="76" y="578" width="600" height="2" fill="rgb(0,151,0)"/><rect x="76" y="580" width="600" height="2" fill="rgb(0,152,0)"/><rect x="76" y="582" width="600" height="2" fill="rgb(0,147,0)"/><rect x="76" y="584" width="600" height="3" fill="rgb(0,148,0)"/><rect x="76" y="587" width="600" height="2" fill="rgb(0,151,0)"/><rect x="76" y="589" width="600" height="2" fill="rgb(0,153,0)"/><rect x="76" y="591" width="600" height="1" fill="rgb(0,150,0)"/><rect x="76" y="592" width="600" height="2" fill="rgb(0,148,0)"/><rect x="76" y="594" width="600" height="2" fill="rgb(0,149,0)"/><rect x="76" y="596" width="600" height="1" fill="rgb(0,153,0)"/><rect x="76" y="597" width="600" height="2" fill="rgb(0,150,0)"/><rect x="76" y="599" width="600" height="2" fill="rgb(0,151,0)"/><rect x="76" y="601" width="600" height="1" fill="rgb(0,149,0)"/><rect x="76" y="602" width="600" height="1" fill="rgb(0,151,0)"/><rect x="76" y="603" width="600" height="3" fill="rgb(0,150,0)"/><rect x="76" y="606" width="600" height="1" fill="rgb(0,148,0)"/><rect x="76" y="607" width="600" height="1" fill="rgb(0,147,0)"/><rect x="76" y="608" width="600" height="3" fill="rgb(0,146,0)"/><rect x="76" y="611" width="600" height="1" fill="rgb(0,148,0)"/><rect x="76" y="612" width="600" height="2" fill="rgb(0,139,0)"/><rect x="76" y="614" width="600" height="3" fill="rgb(0,142,0)"/><rect x="76" y="617" width="600" height="2" fill="rgb(0,146,0)"/><rect x="76" y="619" width="600" height="2" fill="rgb(0,142,0)"/><rect x="76" y="621" width="600" height="3" fill="rgb(0,139,0)"/><rect x="76" y="624" width="600" height="2" fill="rgb(0,145,0)"/><rect x="76" y="626" width="600" height="1" fill="rgb(0,144,0)"/><rect x="76" y="627" width="600" height="2" fill="rgb(0,140,0)"/><rect x="76" y="629" width="600" height="2" fill="rgb(0,141,0)"/><rect x="76" y="631" width="600" height="1" fill="rgb(0,143,0)"/><rect x="76" y="632" width="600" height="2" fill="rgb(0,142,0)"/><rect x="76" y="634" width="600" height="2" fill="rgb(0,145,0)"/><rect x="76" y="636" width="600" height="1" fill="rgb(0,143,0)"/><rect x="76" y="637" width="600" height="2" fill="rgb(0,144,0)"/><rect x="76" y="639" width="600" height="2" fill="rgb(0,143,0)"/><rect x="76" y="641" width="600" height="3" fill="rgb(0,142,0)"/><rect x="76" y="644" width="600" height="2" fill="rgb(0,138,0)"/><rect x="76" y="646" width="600" height="1" fill="rgb(0,140,0)"/><rect x="76" y="647" width="600" height="2" fill="rgb(0,145,0)"/><rect x="76" y="649" width="600" height="2" fill="rgb(0,142,0)"/><rect x="76" y="651" width="600" height="5" fill="rgb(0,141,0)"/><rect x="76" y="656" width="600" height="1" fill="rgb(0,144,0)"/><rect x="76" y="657" width="600" height="1" fill="rgb(0,145,0)"/><rect x="76" y="658" width="600" height="1" fill="rgb(0,146,0)"/><rect x="76" y="659" width="600" height="1" fill="rgb(0,143,0)"/><rect x="76" y="660" width="600" height="1" fill="rgb(0,146,0)"/><rect x="76" y="661" width="600" height="1" fill="rgb(0,150,0)"/><rect x="76" y="662" width="600" height="1" fill="rgb(0,147,0)"/><rect x="76" y="663" width="600" height="1" fill="rgb(0,148,0)"/><rect x="76" y="664" width="600" height="1" fill="rgb(0,150,0)"/><rect x="76" y="665" width="600" height="1" fill="rgb(0,149,0)"/><rect x="76" y="666" width="600" height="1" fill="rgb(0,152,0)"/><rect x="76" y="667" width="600" height="1" fill="rgb(0,150,0)"/><rect x="76" y="668" width="600" height="1" fill="rgb(0,148,0)"/><rect x="76" y="669" width="600" height="1" fill="rgb(0,145,0)"/><rect x="76" y="670" width="600" height="4" fill="rgb(0,144,0)"/><rect x="76" y="674" width="600" height="2" fill="rgb(0,148,0)"/><rect x="76" y="676" width="600" height="1" fill="rgb(0,147,0)"/><rect x="76" y="677" width="600" height="2" fill="rgb(0,143,0)"/><rect x="76" y="679" width="600" height="2" fill="rgb(0,141,0)"/><rect x="76" y="681" width="600" height="1" fill="rgb(0,142,0)"/><rect x="76" y="682" width="600" height="1" fill="rgb(0,143,0)"/><rect x="76" y="683" width="600" height="1" fill="rgb(0,146,0)"/><rect x="76" y="684" width="600" height="2" fill="rgb(0,139,0)"/><rect x="76" y="686" width="600" height="2" fill="rgb(0,141,0)"/><rect x="76" y="688" width="600" height="3" fill="rgb(0,139,0)"/><rect x="76" y="691" width="600" height="2" fill="rgb(0,141,0)"/><rect x="76" y="693" width="600" height="1" fill="rgb(0,143,0)"/><rect x="76" y="694" width="600" height="2" fill="rgb(0,145,0)"/><rect x="76" y="696" width="600" height="2" fill="rgb(0,137,0)"/><rect x="76" y="698" width="600" height="1" fill="rgb(0,139,0)"/><rect x="76" y="699" width="600" height="1" fill="rgb(0,138,0)"/><rect x="76" y="700" width="600" height="1" fill="rgb(0,139,0)"/><rect x="76" y="701" width="600" height="2" fill="rgb(0,142,0)"/><rect x="76" y="703" width="600" height="1" fill="rgb(0,145,0)"/><rect x="76" y="704" width="600" height="2" fill="rgb(0,146,0)"/><rect x="76" y="706" width="600" height="2" fill="rgb(0,143,0)"/><rect x="76" y="708" width="600" height="1" fill="rgb(0,141,0)"/><rect x="76" y="709" width="600" height="2" fill="rgb(0,144,0)"/><rect x="76" y="711" width="600" height="2" fill="rgb(0,142,0)"/><rect x="76" y="713" width="600" height="3" fill="rgb(0,143,0)"/><rect x="76" y="716" width="600" height="2" fill="rgb(0,141,0)"/><rect x="76" y="718" width="600" height="1" fill="rgb(0,146,0)"/><rect x="76" y="719" width="600" height="2" fill="rgb(0,143,0)"/><rect x="76" y="721" width="600" height="2" fill="rgb(0,142,0)"/><rect x="76" y="723" width="600" height="1" fill="rgb(0,144,0)"/><rect x="76" y="724" width="600" height="2" fill="rgb(0,145,0)"/><rect x="76" y="726" width="600" height="2" fill="rgb(0,144,0)"/><rect x="76" y="728" width="600" height="1" fill="rgb(0,141,0)"/><rect x="76" y="729" width="600" height="2" fill="rgb(0,143,0)"/><rect x="76" y="731" width="600" height="2" fill="rgb(0,145,0)"/><rect x="76" y="733" width="600" height="1" fill="rgb(0,144,0)"/><rect x="76" y="734" width="600" height="2" fill="rgb(0,142,0)"/><rect x="76" y="736" width="600" height="5" fill="rgb(0,143,0)"/><rect x="76" y="741" width="600" height="2" fill="rgb(0,142,0)"/><rect x="76" y="743" width="600" height="2" fill="rgb(0,143,0)"/><rect x="76" y="745" width="600" height="1" fill="rgb(0,144,0)"/><rect x="76" y="746" width="600" height="2" fill="rgb(0,145,0)"/><rect x="76" y="748" width="600" height="1" fill="rgb(0,144,0)"/><rect x="76" y="749" width="600" height="1" fill="rgb(0,145,0)"/><rect x="76" y="750" width="600" height="1" fill="rgb(0,146,0)"/><rect x="76" y="751" width="600" height="2" fill="rgb(0,145,0)"/><rect x="76" y="753" width="600" height="1" fill="rgb(0,143,0)"/><rect x="76" y="754" width="600" height="1" fill="rgb(0,144,0)"/><rect x="76" y="755" width="600" height="1" fill="rgb(0,145,0)"/><rect x="76" y="756" width="600" height="2" fill="rgb(0,143,0)"/><rect x="76" y="758" width="600" height="1" fill="rgb(0,146,0)"/><rect x="76" y="759" width="600" height="2" fill="rgb(0,145,0)"/><rect x="76" y="761" width="600" height="2" fill="rgb(0,143,0)"/><rect x="76" y="763" width="600" height="1" fill="rgb(0,145,0)"/><rect x="76" y="764" width="600" height="2" fill="rgb(0,144,0)"/><rect x="76" y="766" width="600" height="2" fill="rgb(0,145,0)"/><rect x="76" y="768" width="600" height="1" fill="rgb(0,146,0)"/><rect x="76" y="769" width="600" height="5" fill="rgb(0,145,0)"/><rect x="76" y="774" width="600" height="2" fill="rgb(0,146,0)"/><rect x="76" y="776" width="600" height="2" fill="rgb(0,147,0)"/><rect x="76" y="778" width="600" height="2" fill="rgb(0,146,0)"/><rect x="76" y="780" width="600" height="3" fill="rgb(0,144,0)"/><rect x="76" y="783" width="600" height="5" fill="rgb(0,146,0)"/><rect x="76" y="788" width="600" height="2" fill="rgb(0,145,0)"/><rect x="76" y="790" width="600" height="1" fill="rgb(0,144,0)"/><rect x="76" y="791" width="600" height="2" fill="rgb(0,149,0)"/><rect x="76" y="793" width="600" height="2" fill="rgb(0,147,0)"/><rect x="76" y="795" width="600" height="3" fill="rgb(0,145,0)"/><rect x="76" y="798" width="600" height="2" fill="rgb(0,146,0)"/><rect x="76" y="800" width="600" height="3" fill="rgb(0,145,0)"/><rect x="76" y="803" width="600" height="2" fill="rgb(0,143,0)"/><rect x="76" y="805" width="600" height="5" fill="rgb(0,148,0)"/><rect x="76" y="810" width="600" height="1" fill="rgb(0,146,0)"/><rect x="76" y="811" width="600" height="4" fill="rgb(0,147,0)"/><rect x="76" y="815" width="600" height="1" fill="rgb(0,150,0)"/><rect x="76" y="816" width="600" height="2" fill="rgb(0,148,0)"/><rect x="76" y="818" width="600" height="2" fill="rgb(0,146,0)"/><rect x="76" y="820" width="600" height="2" fill="rgb(0,147,0)"/><rect x="76" y="822" width="600" height="3" fill="rgb(0,148,0)"/><rect x="76" y="825" width="600" height="2" fill="rgb(0,147,0)"/><rect x="76" y="827" width="600" height="1" fill="rgb(0,148,0)"/><rect x="76" y="828" width="600" height="3" fill="rgb(0,150,0)"/><rect x="76" y="831" width="600" height="2" fill="rgb(0,149,0)"/><rect x="76" y="833" width="600" height="2" fill="rgb(0,150,0)"/><rect x="76" y="835" width="600" height="5" fill="rgb(0,148,0)"/><rect x="76" y="840" width="600" height="1" fill="rgb(0,147,0)"/><rect x="76" y="841" width="600" height="2" fill="rgb(0,144,0)"/><rect x="76" y="843" width="600" height="2" fill="rgb(0,145,0)"/><rect x="76" y="845" width="600" height="1" fill="rgb(0,144,0)"/><rect x="76" y="846" width="600" height="4" fill="rgb(0,145,0)"/><rect x="76" y="850" width="600" height="1" fill="rgb(0,143,0)"/><rect x="76" y="851" width="600" height="2" fill="rgb(0,144,0)"/><rect x="76" y="853" width="600" height="2" fill="rgb(0,142,0)"/><rect x="76" y="855" width="600" height="1" fill="rgb(0,146,0)"/><rect x="76" y="856" width="600" height="2" fill="rgb(0,145,0)"/><rect x="76" y="858" width="600" height="2" fill="rgb(0,146,0)"/><rect x="76" y="860" width="600" height="1" fill="rgb(0,147,0)"/><rect x="76" y="861" width="600" height="2" fill="rgb(0,145,0)"/><rect x="76" y="863" width="600" height="2" fill="rgb(0,144,0)"/><rect x="76" y="865" width="600" height="1" fill="rgb(0,146,0)"/><rect x="76" y="866" width="600" height="2" fill="rgb(0,149,0)"/><rect x="76" y="868" width="600" height="2" fill="rgb(0,148,0)"/><rect x="76" y="870" width="600" height="1" fill="rgb(0,137,0)"/><rect x="76" y="871" width="600" height="1" fill="rgb(0,147,0)"/><rect x="76" y="872" width="600" height="1" fill="rgb(0,139,0)"/><rect x="76" y="873" width="600" height="2" fill="rgb(0,146,0)"/><rect x="76" y="875" width="600" height="1" fill="rgb(0,140,0)"/><rect x="76" y="876" width="600" height="1" fill="rgb(0,149,0)"/><rect x="76" y="877" width="600" height="1" fill="rgb(0,136,0)"/><rect x="76" y="878" width="600" height="4" fill="rgb(0,148,0)"/><rect x="76" y="882" width="600" height="1" fill="rgb(0,145,0)"/><rect x="76" y="883" width="600" height="2" fill="rgb(0,150,0)"/><rect x="76" y="885" width="600" height="2" fill="rgb(0,149,0)"/><rect x="76" y="887" width="600" height="2" fill="rgb(0,151,0)"/><rect x="76" y="889" width="600" height="1" fill="rgb(0,152,0)"/><rect x="76" y="890" width="600" height="2" fill="rgb(0,149,0)"/><rect x="76" y="892" width="600" height="3" fill="rgb(0,148,0)"/><rect x="76" y="895" width="600" height="2" fill="rgb(0,143,0)"/><rect x="76" y="897" width="600" height="1" fill="rgb(0,137,0)"/><rect x="76" y="898" width="600" height="1" fill="rgb(0,146,0)"/><rect x="76" y="899" width="600" height="1" fill="rgb(0,137,0)"/><rect x="76" y="900" width="600" height="2" fill="rgb(0,150,0)"/><rect x="76" y="902" width="600" height="1" fill="rgb(0,148,0)"/><rect x="76" y="903" width="600" height="2" fill="rgb(0,147,0)"/><rect x="76" y="905" width="600" height="2" fill="rgb(0,148,0)"/><rect x="76" y="907" width="600" height="1" fill="rgb(0,146,0)"/><rect x="76" y="908" width="600" height="2" fill="rgb(0,145,0)"/><rect x="76" y="910" width="600" height="1" fill="rgb(0,140,0)"/><rect x="76" y="911" width="600" height="1" fill="rgb(0,141,0)"/><rect x="76" y="912" width="600" height="1" fill="rgb(0,140,0)"/><rect x="76" y="913" width="600" height="2" fill="rgb(0,146,0)"/><rect x="76" y="915" width="600" height="2" fill="rgb(0,148,0)"/><rect x="76" y="917" width="600" height="1" fill="rgb(0,150,0)"/><rect x="76" y="918" width="600" height="2" fill="rgb(0,152,0)"/><rect x="76" y="920" width="600" height="2" fill="rgb(0,151,0)"/><rect x="76" y="922" width="600" height="3" fill="rgb(0,149,0)"/><rect x="76" y="925" width="600" height="2" fill="rgb(0,142,0)"/><rect x="76" y="927" width="600" height="1" fill="rgb(0,144,0)"/><rect x="76" y="928" width="600" height="2" fill="rgb(0,149,0)"/><rect x="76" y="930" width="600" height="2" fill="rgb(0,152,0)"/><rect x="76" y="932" width="600" height="1" fill="rgb(0,146,0)"/><rect x="76" y="933" width="600" height="2" fill="rgb(0,143,0)"/><rect x="76" y="935" width="600" height="2" fill="rgb(0,146,0)"/><rect x="76" y="937" width="600" height="1" fill="rgb(0,141,0)"/><rect x="76" y="938" width="600" height="2" fill="rgb(0,146,0)"/><rect x="76" y="940" width="600" height="2" fill="rgb(0,148,0)"/><rect x="76" y="942" width="600" height="1" fill="rgb(0,146,0)"/><rect x="76" y="943" width="600" height="2" fill="rgb(0,144,0)"/><rect x="76" y="945" width="600" height="1" fill="rgb(0,146,0)"/><rect x="76" y="946" width="600" height="1" fill="rgb(0,147,0)"/><rect x="76" y="947" width="600" height="1" fill="rgb(0,149,0)"/><rect x="76" y="948" width="600" height="2" fill="rgb(0,148,0)"/><rect x="76" y="950" width="600" height="2" fill="rgb(0,152,0)"/><rect x="76" y="952" width="600" height="1" fill="rgb(0,150,0)"/><rect x="76" y="953" width="600" height="2" fill="rgb(0,146,0)"/><rect x="76" y="955" width="600" height="3" fill="rgb(0,147,0)"/><rect x="76" y="958" width="600" height="2" fill="rgb(0,142,0)"/><rect x="76" y="960" width="600" height="2" fill="rgb(0,148,0)"/><rect x="76" y="962" width="600" height="1" fill="rgb(0,147,0)"/><rect x="76" y="963" width="600" height="2" fill="rgb(0,143,0)"/><rect x="76" y="965" width="600" height="2" fill="rgb(0,151,0)"/><rect x="76" y="967" width="600" height="1" fill="rgb(0,157,0)"/><rect x="76" y="968" width="600" height="2" fill="rgb(0,156,0)"/><rect x="76" y="970" width="600" height="2" fill="rgb(0,149,0)"/><rect x="76" y="972" width="600" height="2" fill="rgb(0,154,0)"/><rect x="76" y="974" width="600" height="1" fill="rgb(0,151,0)"/><rect x="76" y="975" width="600" height="2" fill="rgb(0,149,0)"/><rect x="76" y="977" width="600" height="2" fill="rgb(0,146,0)"/><rect x="76" y="979" width="600" height="1" fill="rgb(0,144,0)"/><rect x="76" y="980" width="600" height="2" fill="rgb(0,145,0)"/><rect x="76" y="982" width="600" height="2" fill="rgb(0,144,0)"/><rect x="76" y="984" width="600" height="1" fill="rgb(0,147,0)"/><rect x="76" y="985" width="600" height="1" fill="rgb(0,152,0)"/><rect x="76" y="986" width="600" height="1" fill="rgb(0,150,0)"/><rect x="76" y="987" width="600" height="1" fill="rgb(0,143,0)"/><rect x="76" y="988" width="600" height="2" fill="rgb(0,142,0)"/><rect x="76" y="990" width="600" height="2" fill="rgb(0,139,0)"/><rect x="76" y="992" width="600" height="1" fill="rgb(0,143,0)"/><rect x="76" y="993" width="600" height="1" fill="rgb(0,142,0)"/><rect x="76" y="994" width="600" height="1" fill="rgb(0,138,0)"/><rect x="76" y="995" width="600" height="2" fill="rgb(0,142,0)"/><rect x="76" y="997" width="600" height="2" fill="rgb(0,138,0)"/><rect x="76" y="999" width="600" height="1" fill="rgb(0,140,0)"/><rect x="76" y="1000" width="600" height="1" fill="rgb(0,144,0)"/><rect x="76" y="1001" width="600" height="3" fill="rgb(0,147,0)"/><rect x="76" y="1004" width="600" height="1" fill="rgb(0,148,0)"/><rect x="76" y="1005" width="600" height="2" fill="rgb(0,151,0)"/><rect x="76" y="1007" width="600" height="2" fill="rgb(0,150,0)"/><rect x="76" y="1009" width="600" height="1" fill="rgb(0,144,0)"/><rect x="76" y="1010" width="600" height="2" fill="rgb(0,148,0)"/><rect x="76" y="1012" width="600" height="1" fill="rgb(0,150,0)"/><rect x="76" y="1013" width="600" height="1" fill="rgb(0,152,0)"/><rect x="76" y="1014" width="600" height="1" fill="rgb(0,148,0)"/><rect x="76" y="1015" width="600" height="2" fill="rgb(0,150,0)"/><rect x="76" y="1017" width="600" height="2" fill="rgb(0,153,0)"/><rect x="76" y="1019" width="600" height="1" fill="rgb(0,154,0)"/><rect x="76" y="1020" width="600" height="1" fill="rgb(0,151,0)"/><rect x="76" y="1021" width="600" height="1" fill="rgb(0,148,0)"/><rect x="76" y="1022" width="600" height="2" fill="rgb(0,145,0)"/><rect x="76" y="1024" width="600" height="1" fill="rgb(0,148,0)"/><rect x="76" y="1025" width="600" height="2" fill="rgb(0,154,0)"/><rect x="76" y="1027" width="600" height="2" fill="rgb(0,144,0)"/><rect x="76" y="1029" width="600" height="1" fill="rgb(0,145,0)"/><rect x="76" y="1030" width="600" height="2" fill="rgb(0,148,0)"/><rect x="76" y="1032" width="600" height="2" fill="rgb(0,149,0)"/><rect x="76" y="1034" width="600" height="1" fill="rgb(0,142,0)"/><rect x="76" y="1035" width="600" height="2" fill="rgb(0,143,0)"/><rect x="76" y="1037" width="600" height="2" fill="rgb(0,141,0)"/><rect x="76" y="1039" width="600" height="1" fill="rgb(0,144,0)"/><rect x="76" y="1040" width="600" height="2" fill="rgb(0,151,0)"/><rect x="76" y="1042" width="600" height="3" fill="rgb(0,147,0)"/><rect x="76" y="1045" width="600" height="2" fill="rgb(0,149,0)"/><rect x="76" y="1047" width="600" height="2" fill="rgb(0,146,0)"/><rect x="76" y="1049" width="600" height="1" fill="rgb(0,142,0)"/><rect x="76" y="1050" width="600" height="2" fill="rgb(0,147,0)"/><rect x="76" y="1052" width="600" height="2" fill="rgb(0,148,0)"/><rect x="76" y="1054" width="600" height="1" fill="rgb(0,147,0)"/><rect x="76" y="1055" width="600" height="2" fill="rgb(0,152,0)"/><rect x="76" y="1057" width="600" height="2" fill="rgb(0,148,0)"/><rect x="76" y="1059" width="600" height="1" fill="rgb(0,152,0)"/><rect x="76" y="1060" width="600" height="2" fill="rgb(0,148,0)"/><rect x="76" y="1062" width="600" height="3" fill="rgb(0,144,0)"/><rect x="76" y="1065" width="600" height="2" fill="rgb(0,149,0)"/><rect x="76" y="1067" width="600" height="2" fill="rgb(0,146,0)"/><rect x="76" y="1069" width="600" height="2" fill="rgb(0,147,0)"/><rect x="76" y="1071" width="600" height="1" fill="rgb(0,146,0)"/><rect x="76" y="1072" width="600" height="2" fill="rgb(0,140,0)"/><rect x="76" y="1074" width="600" height="1" fill="rgb(0,144,0)"/><rect x="76" y="1075" width="600" height="1" fill="rgb(0,145,0)"/><rect x="76" y="1076" width="600" height="1" fill="rgb(0,151,0)"/><rect x="76" y="1077" width="600" height="1" fill="rgb(0,150,0)"/><rect x="76" y="1078" width="600" height="1" fill="rgb(0,151,0)"/><rect x="76" y="1079" width="600" height="2" fill="rgb(0,152,0)"/><rect x="76" y="1081" width="600" height="1" fill="rgb(0,147,0)"/><rect x="76" y="1082" width="600" height="2" fill="rgb(0,143,0)"/><rect x="76" y="1084" width="600" height="2" fill="rgb(0,144,0)"/><rect x="76" y="1086" width="600" height="1" fill="rgb(0,149,0)"/><rect x="76" y="1087" width="600" height="1" fill="rgb(0,151,0)"/><rect x="76" y="1088" width="600" height="1" fill="rgb(0,152,0)"/><rect x="76" y="1089" width="600" height="2" fill="rgb(0,143,0)"/><rect x="76" y="1091" width="600" height="1" fill="rgb(0,150,0)"/><rect x="76" y="1092" width="600" height="2" fill="rgb(0,151,0)"/><rect x="76" y="1094" width="600" height="2" fill="rgb(0,156,0)"/><rect x="76" y="1096" width="600" height="1" fill="rgb(0,154,0)"/><rect x="76" y="1097" width="600" height="2" fill="rgb(0,151,0)"/><rect x="76" y="1099" width="600" height="2" fill="rgb(0,156,0)"/><rect x="76" y="1101" width="600" height="1" fill="rgb(0,158,0)"/><rect x="76" y="1102" width="600" height="2" fill="rgb(0,153,0)"/><rect x="76" y="1104" width="600" height="2" fill="rgb(0,154,0)"/><rect x="76" y="1106" width="600" height="1" fill="rgb(0,151,0)"/><rect x="76" y="1107" width="600" height="2" fill="rgb(0,153,0)"/><rect x="76" y="1109" width="600" height="2" fill="rgb(0,151,0)"/><rect x="76" y="1111" width="600" height="1" fill="rgb(0,155,0)"/><rect x="76" y="1112" width="600" height="2" fill="rgb(0,158,0)"/><rect x="76" y="1114" width="600" height="2" fill="rgb(0,152,0)"/><rect x="76" y="1116" width="600" height="1" fill="rgb(0,148,0)"/><rect x="76" y="1117" width="600" height="4" fill="rgb(0,158,0)"/><rect x="76" y="1121" width="600" height="1" fill="rgb(0,155,0)"/><rect x="76" y="1122" width="600" height="2" fill="rgb(0,151,0)"/><rect x="76" y="1124" width="600" height="1" fill="rgb(0,144,0)"/><rect x="76" y="1125" width="600" height="1" fill="rgb(0,139,0)"/><rect x="76" y="1126" width="600" height="1" fill="rgb(0,142,0)"/><rect x="76" y="1127" width="600" height="1" fill="rgb(0,147,0)"/><rect x="76" y="1128" width="600" height="1" fill="rgb(0,152,0)"/><rect x="76" y="1129" width="600" height="2" fill="rgb(0,153,0)"/><rect x="76" y="1131" width="600" height="1" fill="rgb(0,154,0)"/><rect x="76" y="1132" width="600" height="4" fill="rgb(0,151,0)"/><rect x="76" y="1136" width="600" height="1" fill="rgb(0,150,0)"/><rect x="76" y="1137" width="600" height="2" fill="rgb(0,147,0)"/><rect x="76" y="1139" width="600" height="2" fill="rgb(0,152,0)"/><rect x="76" y="1141" width="600" height="1" fill="rgb(0,148,0)"/><rect x="76" y="1142" width="600" height="2" fill="rgb(0,149,0)"/><rect x="76" y="1144" width="600" height="1" fill="rgb(0,146,0)"/><rect x="76" y="1145" width="600" height="1" fill="rgb(0,149,0)"/><rect x="76" y="1146" width="600" height="1" fill="rgb(0,156,0)"/><rect x="76" y="1147" width="600" height="2" fill="rgb(0,153,0)"/><rect x="76" y="1149" width="600" height="2" fill="rgb(0,155,0)"/><rect x="76" y="1151" width="600" height="1" fill="rgb(0,145,0)"/><rect x="76" y="1152" width="600" height="2" fill="rgb(0,152,0)"/><rect x="76" y="1154" width="600" height="2" fill="rgb(0,153,0)"/><rect x="76" y="1156" width="600" height="1" fill="rgb(0,151,0)"/><rect x="76" y="1157" width="600" height="2" fill="rgb(0,153,0)"/><rect x="76" y="1159" width="600" height="2" fill="rgb(0,159,0)"/><rect x="76" y="1161" width="600" height="1" fill="rgb(0,158,0)"/><rect x="76" y="1162" width="600" height="2" fill="rgb(0,155,0)"/><rect x="76" y="1164" width="600" height="2" fill="rgb(0,154,0)"/><rect x="76" y="1166" width="600" height="2" fill="rgb(0,156,0)"/><rect x="76" y="1168" width="600" height="1" fill="rgb(0,151,0)"/><rect x="76" y="1169" width="600" height="2" fill="rgb(0,153,0)"/><rect x="76" y="1171" width="600" height="2" fill="rgb(0,155,0)"/><rect x="76" y="1173" width="600" height="1" fill="rgb(0,152,0)"/><rect x="76" y="1174" width="600" height="2" fill="rgb(0,150,0)"/><rect x="76" y="1176" width="600" height="2" fill="rgb(0,155,0)"/><rect x="76" y="1178" width="600" height="1" fill="rgb(0,151,0)"/><rect x="76" y="1179" width="600" height="2" fill="rgb(0,148,0)"/><rect x="76" y="1181" width="600" height="2" fill="rgb(0,152,0)"/><rect x="76" y="1183" width="600" height="1" fill="rgb(0,154,0)"/><rect x="76" y="1184" width="600" height="2" fill="rgb(0,160,0)"/><rect x="76" y="1186" width="600" height="3" fill="rgb(0,154,0)"/><rect x="76" y="1189" width="600" height="2" fill="rgb(0,151,0)"/><rect x="76" y="1191" width="600" height="2" fill="rgb(0,152,0)"/><rect x="76" y="1193" width="600" height="1" fill="rgb(0,150,0)"/><rect x="76" y="1194" width="600" height="2" fill="rgb(0,151,0)"/><rect x="76" y="1196" width="600" height="2" fill="rgb(0,154,0)"/><rect x="76" y="1198" width="600" height="1" fill="rgb(0,152,0)"/><rect x="76" y="1199" width="600" height="2" fill="rgb(0,154,0)"/><rect x="76" y="1201" width="600" height="2" fill="rgb(0,150,0)"/><rect x="76" y="1203" width="600" height="1" fill="rgb(0,148,0)"/><rect x="76" y="1204" width="600" height="2" fill="rgb(0,152,0)"/><rect x="76" y="1206" width="600" height="2" fill="rgb(0,153,0)"/><rect x="76" y="1208" width="600" height="1" fill="rgb(0,157,0)"/><rect x="76" y="1209" width="600" height="4" fill="rgb(0,155,0)"/><rect x="76" y="1213" width="600" height="1" fill="rgb(0,149,0)"/><rect x="76" y="1214" width="600" height="2" fill="rgb(0,146,0)"/><rect x="76" y="1216" width="600" height="2" fill="rgb(0,148,0)"/><rect x="76" y="1218" width="600" height="1" fill="rgb(0,155,0)"/><rect x="76" y="1219" width="600" height="1" fill="rgb(0,146,0)"/><rect x="76" y="1220" width="600" height="1" fill="rgb(0,145,0)"/><rect x="76" y="1221" width="600" height="2" fill="rgb(0,152,0)"/><rect x="76" y="1223" width="600" height="1" fill="rgb(0,154,0)"/><rect x="76" y="1224" width="600" height="1" fill="rgb(0,153,0)"/><rect x="76" y="1225" width="600" height="1" fill="rgb(0,154,0)"/><rect x="76" y="1226" width="600" height="2" fill="rgb(0,148,0)"/><rect x="76" y="1228" width="600" height="1" fill="rgb(0,159,0)"/><rect x="76" y="1229" width="600" height="2" fill="rgb(0,145,0)"/><rect x="76" y="1231" width="600" height="2" fill="rgb(0,152,0)"/><rect x="76" y="1233" width="600" height="1" fill="rgb(0,157,0)"/><rect x="76" y="1234" width="600" height="2" fill="rgb(0,152,0)"/><rect x="76" y="1236" width="600" height="2" fill="rgb(0,156,0)"/><rect x="76" y="1238" width="600" height="1" fill="rgb(0,158,0)"/><rect x="76" y="1239" width="600" height="2" fill="rgb(0,153,0)"/><rect x="76" y="1241" width="600" height="2" fill="rgb(0,154,0)"/><rect x="76" y="1243" width="600" height="1" fill="rgb(0,146,0)"/><rect x="76" y="1244" width="600" height="2" fill="rgb(0,147,0)"/><rect x="76" y="1246" width="600" height="2" fill="rgb(0,156,0)"/><rect x="76" y="1248" width="600" height="1" fill="rgb(0,159,0)"/><rect x="76" y="1249" width="600" height="4" fill="rgb(0,155,0)"/><rect x="76" y="1253" width="600" height="1" fill="rgb(0,152,0)"/><rect x="76" y="1254" width="600" height="2" fill="rgb(0,155,0)"/><rect x="76" y="1256" width="600" height="2" fill="rgb(0,150,0)"/><rect x="76" y="1258" width="600" height="3" fill="rgb(0,157,0)"/><rect x="76" y="1261" width="600" height="2" fill="rgb(0,152,0)"/><rect x="76" y="1263" width="600" height="2" fill="rgb(0,151,0)"/><rect x="76" y="1265" width="600" height="1" fill="rgb(0,157,0)"/><rect x="76" y="1266" width="600" height="4" fill="rgb(0,153,0)"/><rect x="76" y="1270" width="600" height="3" fill="rgb(0,149,0)"/><rect x="76" y="1273" width="600" height="2" fill="rgb(0,150,0)"/><rect x="76" y="1275" width="600" height="1" fill="rgb(0,156,0)"/><rect x="76" y="1276" width="600" height="2" fill="rgb(0,153,0)"/><rect x="76" y="1278" width="600" height="2" fill="rgb(0,158,0)"/><rect x="76" y="1280" width="600" height="1" fill="rgb(0,154,0)"/><rect x="76" y="1281" width="600" height="2" fill="rgb(0,151,0)"/><rect x="76" y="1283" width="600" height="2" fill="rgb(0,161,0)"/><rect x="76" y="1285" width="600" height="1" fill="rgb(0,155,0)"/><rect x="76" y="1286" width="600" height="1" fill="rgb(0,151,0)"/><rect x="76" y="1287" width="600" height="1" fill="rgb(0,150,0)"/><rect x="76" y="1288" width="600" height="3" fill="rgb(0,157,0)"/><rect x="76" y="1291" width="600" height="2" fill="rgb(0,153,0)"/><rect x="76" y="1293" width="600" height="1" fill="rgb(0,149,0)"/><rect x="76" y="1294" width="600" height="1" fill="rgb(0,150,0)"/><rect x="76" y="1295" width="600" height="1" fill="rgb(0,162,0)"/><rect x="76" y="1296" width="600" height="2" fill="rgb(0,158,0)"/><rect x="76" y="1298" width="600" height="2" fill="rgb(0,155,0)"/><rect x="76" y="1300" width="600" height="1" fill="rgb(0,150,0)"/><rect x="76" y="1301" width="600" height="2" fill="rgb(0,146,0)"/><rect x="76" y="1303" width="600" height="2" fill="rgb(0,151,0)"/><rect x="76" y="1305" width="600" height="1" fill="rgb(0,147,0)"/><rect x="76" y="1306" width="600" height="2" fill="rgb(0,151,0)"/><rect x="76" y="1308" width="600" height="2" fill="rgb(0,150,0)"/><rect x="76" y="1310" width="600" height="1" fill="rgb(0,151,0)"/><rect x="76" y="1311" width="600" height="2" fill="rgb(0,150,0)"/><rect x="76" y="1313" width="600" height="2" fill="rgb(0,147,0)"/><rect x="76" y="1315" width="600" height="1" fill="rgb(0,149,0)"/><rect x="76" y="1316" width="600" height="2" fill="rgb(0,152,0)"/><rect x="76" y="1318" width="600" height="2" fill="rgb(0,155,0)"/><rect x="76" y="1320" width="600" height="1" fill="rgb(0,150,0)"/><rect x="76" y="1321" width="600" height="2" fill="rgb(0,152,0)"/><rect x="76" y="1323" width="600" height="2" fill="rgb(0,144,0)"/><rect x="76" y="1325" width="600" height="1" fill="rgb(0,148,0)"/><rect x="76" y="1326" width="600" height="2" fill="rgb(0,151,0)"/><rect x="76" y="1328" width="600" height="1" fill="rgb(0,145,0)"/><rect x="76" y="1329" width="600" height="1" fill="rgb(0,146,0)"/><rect x="76" y="1330" width="600" height="1" fill="rgb(0,149,0)"/><rect x="76" y="1331" width="600" height="1" fill="rgb(0,151,0)"/><rect x="76" y="1332" width="600" height="1" fill="rgb(0,148,0)"/><rect x="76" y="1333" width="600" height="2" fill="rgb(0,145,0)"/><rect x="76" y="1335" width="600" height="3" fill="rgb(0,146,0)"/><rect x="76" y="1338" width="600" height="2" fill="rgb(0,150,0)"/><rect x="76" y="1340" width="600" height="1" fill="rgb(0,152,0)"/><rect x="76" y="1341" width="600" height="1" fill="rgb(0,151,0)"/><rect x="76" y="1342" width="600" height="1" fill="rgb(0,154,0)"/><rect x="76" y="1343" width="600" height="2" fill="rgb(0,155,0)"/><rect x="76" y="1345" width="600" height="1" fill="rgb(0,156,0)"/><rect x="76" y="1346" width="600" height="4" fill="rgb(0,153,0)"/><rect x="76" y="1350" width="600" height="1" fill="rgb(0,154,0)"/><rect x="76" y="1351" width="600" height="2" fill="rgb(0,149,0)"/><rect x="76" y="1353" width="600" height="2" fill="rgb(0,153,0)"/><rect x="76" y="1355" width="600" height="1" fill="rgb(0,158,0)"/><rect x="76" y="1356" width="600" height="2" fill="rgb(0,149,0)"/><rect x="76" y="1358" width="600" height="2" fill="rgb(0,151,0)"/><rect x="76" y="1360" width="600" height="3" fill="rgb(0,152,0)"/><rect x="76" y="1363" width="600" height="2" fill="rgb(0,149,0)"/><rect x="76" y="1365" width="600" height="2" fill="rgb(0,156,0)"/><rect x="76" y="1367" width="600" height="1" fill="rgb(0,157,0)"/><rect x="76" y="1368" width="600" height="2" fill="rgb(0,153,0)"/><rect x="76" y="1370" width="600" height="2" fill="rgb(0,152,0)"/><rect x="76" y="1372" width="600" height="1" fill="rgb(0,153,0)"/><rect x="76" y="1373" width="600" height="2" fill="rgb(0,160,0)"/><rect x="76" y="1375" width="600" height="2" fill="rgb(0,155,0)"/><rect x="76" y="1377" width="600" height="1" fill="rgb(0,157,0)"/><rect x="76" y="1378" width="600" height="2" fill="rgb(0,150,0)"/><rect x="76" y="1380" width="600" height="2" fill="rgb(0,153,0)"/><rect x="76" y="1382" width="600" height="1" fill="rgb(0,148,0)"/><rect x="76" y="1383" width="600" height="2" fill="rgb(0,154,0)"/><rect x="76" y="1385" width="600" height="2" fill="rgb(0,153,0)"/><rect x="76" y="1387" width="600" height="1" fill="rgb(0,149,0)"/><rect x="76" y="1388" width="600" height="2" fill="rgb(0,151,0)"/><rect x="76" y="1390" width="600" height="1" fill="rgb(0,154,0)"/><rect x="76" y="1391" width="600" height="1" fill="rgb(0,152,0)"/><rect x="76" y="1392" width="600" height="1" fill="rgb(0,155,0)"/><rect x="76" y="1393" width="600" height="2" fill="rgb(0,156,0)"/><rect x="76" y="1395" width="600" height="2" fill="rgb(0,147,0)"/><rect x="76" y="1397" width="600" height="1" fill="rgb(0,145,0)"/><rect x="76" y="1398" width="600" height="2" fill="rgb(0,148,0)"/><rect x="76" y="1400" width="600" height="2" fill="rgb(0,149,0)"/><rect x="76" y="1402" width="600" height="3" fill="rgb(0,152,0)"/><rect x="76" y="1405" width="600" height="2" fill="rgb(0,153,0)"/><rect x="76" y="1407" width="600" height="1" fill="rgb(0,155,0)"/><rect x="76" y="1408" width="600" height="2" fill="rgb(0,152,0)"/><rect x="76" y="1410" width="600" height="1" fill="rgb(0,146,0)"/><rect x="76" y="1411" width="600" height="1" fill="rgb(0,149,0)"/><rect x="76" y="1412" width="600" height="1" fill="rgb(0,151,0)"/><rect x="76" y="1413" width="600" height="2" fill="rgb(0,152,0)"/><rect x="76" y="1415" width="600" height="2" fill="rgb(0,151,0)"/><rect x="76" y="1417" width="600" height="1" fill="rgb(0,157,0)"/><rect x="76" y="1418" width="600" height="1" fill="rgb(0,158,0)"/><rect x="76" y="1419" width="600" height="1" fill="rgb(0,156,0)"/><rect x="76" y="1420" width="600" height="1" fill="rgb(0,150,0)"/><rect x="76" y="1421" width="600" height="1" fill="rgb(0,149,0)"/><rect x="76" y="1422" width="600" height="1" fill="rgb(0,142,0)"/><rect x="76" y="1423" width="600" height="2" fill="rgb(0,149,0)"/><rect x="76" y="1425" width="600" height="2" fill="rgb(0,152,0)"/><rect x="76" y="1427" width="600" height="3" fill="rgb(0,150,0)"/><rect x="76" y="1430" width="600" height="2" fill="rgb(0,156,0)"/><rect x="76" y="1432" width="600" height="1" fill="rgb(0,154,0)"/><rect x="76" y="1433" width="600" height="4" fill="rgb(0,149,0)"/><rect x="76" y="1437" width="600" height="1" fill="rgb(0,152,0)"/><rect x="76" y="1438" width="600" height="2" fill="rgb(0,143,0)"/><rect x="76" y="1440" width="600" height="2" fill="rgb(0,145,0)"/><rect x="76" y="1442" width="600" height="2" fill="rgb(0,142,0)"/><rect x="76" y="1444" width="600" height="1" fill="rgb(0,143,0)"/><rect x="76" y="1445" width="600" height="1" fill="rgb(0,147,0)"/><rect x="76" y="1446" width="600" height="1" fill="rgb(0,148,0)"/><rect x="76" y="1447" width="600" height="1" fill="rgb(0,153,0)"/><rect x="76" y="1448" width="600" height="1" fill="rgb(0,159,0)"/><rect x="76" y="1449" width="600" height="1" fill="rgb(0,160,0)"/><rect x="76" y="1450" width="600" height="2" fill="rgb(0,152,0)"/><rect x="76" y="1452" width="600" height="1" fill="rgb(0,148,0)"/><rect x="76" y="1453" width="600" height="2" fill="rgb(0,155,0)"/><rect x="76" y="1455" width="600" height="2" fill="rgb(0,160,0)"/><rect x="76" y="1457" width="600" height="3" fill="rgb(0,155,0)"/><rect x="76" y="1460" width="600" height="2" fill="rgb(0,149,0)"/><rect x="76" y="1462" width="600" height="2" fill="rgb(0,154,0)"/><rect x="76" y="1464" width="600" height="1" fill="rgb(0,155,0)"/><rect x="76" y="1465" width="600" height="1" fill="rgb(0,157,0)"/><rect x="76" y="1466" width="600" height="1" fill="rgb(0,156,0)"/><rect x="76" y="1467" width="600" height="2" fill="rgb(0,157,0)"/><rect x="76" y="1469" width="600" height="1" fill="rgb(0,158,0)"/><rect x="76" y="1470" width="600" height="2" fill="rgb(0,162,0)"/><rect x="76" y="1472" width="600" height="2" fill="rgb(0,154,0)"/><rect x="76" y="1474" width="600" height="1" fill="rgb(0,159,0)"/><rect x="76" y="1475" width="600" height="2" fill="rgb(0,163,0)"/><rect x="76" y="1477" width="600" height="2" fill="rgb(0,153,0)"/><rect x="76" y="1479" width="600" height="1" fill="rgb(0,145,0)"/><rect x="76" y="1480" width="600" height="2" fill="rgb(0,148,0)"/><rect x="76" y="1482" width="600" height="2" fill="rgb(0,153,0)"/><rect x="76" y="1484" width="600" height="1" fill="rgb(0,157,0)"/><rect x="76" y="1485" width="600" height="2" fill="rgb(0,156,0)"/><rect x="76" y="1487" width="600" height="2" fill="rgb(0,159,0)"/><rect x="76" y="1489" width="600" height="1" fill="rgb(0,156,0)"/><rect x="76" y="1490" width="600" height="2" fill="rgb(0,163,0)"/><rect x="76" y="1492" width="600" height="2" fill="rgb(0,158,0)"/><rect x="76" y="1494" width="600" height="1" fill="rgb(0,149,0)"/><rect x="76" y="1495" width="600" height="2" fill="rgb(0,150,0)"/><rect x="76" y="1497" width="600" height="1" fill="rgb(0,146,0)"/><rect x="76" y="1498" width="600" height="1" fill="rgb(0,144,0)"/><rect x="76" y="1499" width="600" height="1" fill="rgb(0,150,0)"/><rect x="76" y="1500" width="600" height="2" fill="rgb(0,144,0)"/><rect x="76" y="1502" width="600" height="2" fill="rgb(0,152,0)"/><rect x="76" y="1504" width="600" height="1" fill="rgb(0,146,0)"/><rect x="76" y="1505" width="600" height="2" fill="rgb(0,148,0)"/><rect x="76" y="1507" width="600" height="1" fill="rgb(0,150,0)"/><rect x="76" y="1508" width="600" height="1" fill="rgb(0,151,0)"/><rect x="76" y="1509" width="600" height="1" fill="rgb(0,142,0)"/><rect x="76" y="1510" width="600" height="2" fill="rgb(0,149,0)"/><rect x="76" y="1512" width="600" height="2" fill="rgb(0,147,0)"/><rect x="76" y="1514" width="600" height="1" fill="rgb(0,155,0)"/><rect x="76" y="1515" width="600" height="2" fill="rgb(0,160,0)"/><rect x="76" y="1517" width="600" height="2" fill="rgb(0,151,0)"/><rect x="76" y="1519" width="600" height="1" fill="rgb(0,154,0)"/><rect x="76" y="1520" width="600" height="2" fill="rgb(0,156,0)"/><rect x="76" y="1522" width="600" height="2" fill="rgb(0,146,0)"/><rect x="76" y="1524" width="600" height="1" fill="rgb(0,153,0)"/><rect x="76" y="1525" width="600" height="4" fill="rgb(0,152,0)"/><rect x="76" y="1529" width="600" height="1" fill="rgb(0,146,0)"/><rect x="76" y="1530" width="600" height="1" fill="rgb(0,153,0)"/><rect x="76" y="1531" width="600" height="3" fill="rgb(0,154,0)"/><rect x="76" y="1534" width="600" height="1" fill="rgb(0,156,0)"/><rect x="76" y="1535" width="600" height="4" fill="rgb(0,153,0)"/><rect x="76" y="1539" width="600" height="1" fill="rgb(0,157,0)"/><rect x="76" y="1540" width="600" height="1" fill="rgb(0,155,0)"/><rect x="76" y="1541" width="600" height="1" fill="rgb(0,154,0)"/><rect x="76" y="1542" width="600" height="2" fill="rgb(0,145,0)"/><rect x="76" y="1544" width="600" height="3" fill="rgb(0,151,0)"/><rect x="76" y="1547" width="600" height="2" fill="rgb(0,149,0)"/><rect x="76" y="1549" width="600" height="1" fill="rgb(0,153,0)"/><rect x="76" y="1550" width="600" height="2" fill="rgb(0,151,0)"/><rect x="76" y="1552" width="600" height="2" fill="rgb(0,150,0)"/><rect x="76" y="1554" width="600" height="1" fill="rgb(0,152,0)"/>
</g>
<g style="mix-blend-mode:plus-lighter">
<radialGradient id="bg0" gradientUnits="userSpaceOnUse" cx="0" cy="0" r="1" gradientTransform="translate(220 593) scale(150 20)"><stop offset="0.00" stop-color="rgb(0,3,0)"/><stop offset="0.35" stop-color="rgb(0,3,0)"/><stop offset="0.60" stop-color="rgb(0,2,0)"/><stop offset="0.80" stop-color="rgb(0,1,0)"/><stop offset="1.00" stop-color="rgb(0,0,0)"/></radialGradient><rect x="70" y="573" width="300" height="40" fill="url(#bg0)" style="mix-blend-mode:plus-lighter"/>
<radialGradient id="bg1" gradientUnits="userSpaceOnUse" cx="0" cy="0" r="1" gradientTransform="translate(565 593) scale(110 18)"><stop offset="0.00" stop-color="rgb(0,4,0)"/><stop offset="0.35" stop-color="rgb(0,3,0)"/><stop offset="0.60" stop-color="rgb(0,2,0)"/><stop offset="0.80" stop-color="rgb(0,1,0)"/><stop offset="1.00" stop-color="rgb(0,0,0)"/></radialGradient><rect x="455" y="575" width="220" height="36" fill="url(#bg1)" style="mix-blend-mode:plus-lighter"/>
<radialGradient id="bg2" gradientUnits="userSpaceOnUse" cx="0" cy="0" r="1" gradientTransform="translate(610 1300) scale(210 340)"><stop offset="0.00" stop-color="rgb(0,4,0)"/><stop offset="0.35" stop-color="rgb(0,3,0)"/><stop offset="0.60" stop-color="rgb(0,2,0)"/><stop offset="0.80" stop-color="rgb(0,1,0)"/><stop offset="1.00" stop-color="rgb(0,0,0)"/></radialGradient><rect x="400" y="960" width="420" height="680" fill="url(#bg2)" style="mix-blend-mode:plus-lighter"/>
<radialGradient id="bg3" gradientUnits="userSpaceOnUse" cx="0" cy="0" r="1" gradientTransform="translate(620 60) scale(180 70)"><stop offset="0.00" stop-color="rgb(0,3,0)"/><stop offset="0.35" stop-color="rgb(0,3,0)"/><stop offset="0.60" stop-color="rgb(0,2,0)"/><stop offset="0.80" stop-color="rgb(0,1,0)"/><stop offset="1.00" stop-color="rgb(0,0,0)"/></radialGradient><rect x="440" y="-10" width="360" height="140" fill="url(#bg3)" style="mix-blend-mode:plus-lighter"/>
<radialGradient id="bg4" gradientUnits="userSpaceOnUse" cx="0" cy="0" r="1" gradientTransform="translate(270 50) scale(230 55)"><stop offset="0.00" stop-color="rgb(0,3,0)"/><stop offset="0.35" stop-color="rgb(0,3,0)"/><stop offset="0.60" stop-color="rgb(0,2,0)"/><stop offset="0.80" stop-color="rgb(0,1,0)"/><stop offset="1.00" stop-color="rgb(0,0,0)"/></radialGradient><rect x="40" y="-5" width="460" height="110" fill="url(#bg4)" style="mix-blend-mode:plus-lighter"/>
<radialGradient id="bg5" gradientUnits="userSpaceOnUse" cx="0" cy="0" r="1" gradientTransform="translate(230 1098) scale(170 32)"><stop offset="0.00" stop-color="rgb(0,2,0)"/><stop offset="0.35" stop-color="rgb(0,2,0)"/><stop offset="0.60" stop-color="rgb(0,1,0)"/><stop offset="0.80" stop-color="rgb(0,0,0)"/><stop offset="1.00" stop-color="rgb(0,0,0)"/></radialGradient><rect x="60" y="1066" width="340" height="64" fill="url(#bg5)" style="mix-blend-mode:plus-lighter"/>
<radialGradient id="bg6" gradientUnits="userSpaceOnUse" cx="0" cy="0" r="1" gradientTransform="translate(200 1010) scale(150 30)"><stop offset="0.00" stop-color="rgb(0,2,0)"/><stop offset="0.35" stop-color="rgb(0,2,0)"/><stop offset="0.60" stop-color="rgb(0,1,0)"/><stop offset="0.80" stop-color="rgb(0,0,0)"/><stop offset="1.00" stop-color="rgb(0,0,0)"/></radialGradient><rect x="50" y="980" width="300" height="60" fill="url(#bg6)" style="mix-blend-mode:plus-lighter"/>
<radialGradient id="bg7" gradientUnits="userSpaceOnUse" cx="0" cy="0" r="1" gradientTransform="translate(250 1300) scale(200 120)"><stop offset="0.00" stop-color="rgb(0,2,0)"/><stop offset="0.35" stop-color="rgb(0,2,0)"/><stop offset="0.60" stop-color="rgb(0,1,0)"/><stop offset="0.80" stop-color="rgb(0,0,0)"/><stop offset="1.00" stop-color="rgb(0,0,0)"/></radialGradient><rect x="50" y="1180" width="400" height="240" fill="url(#bg7)" style="mix-blend-mode:plus-lighter"/>
<radialGradient id="bg8" gradientUnits="userSpaceOnUse" cx="0" cy="0" r="1" gradientTransform="translate(520 1480) scale(160 40)"><stop offset="0.00" stop-color="rgb(0,2,0)"/><stop offset="0.35" stop-color="rgb(0,2,0)"/><stop offset="0.60" stop-color="rgb(0,1,0)"/><stop offset="0.80" stop-color="rgb(0,0,0)"/><stop offset="1.00" stop-color="rgb(0,0,0)"/></radialGradient><rect x="360" y="1440" width="320" height="80" fill="url(#bg8)" style="mix-blend-mode:plus-lighter"/>
<radialGradient id="bg9" gradientUnits="userSpaceOnUse" cx="0" cy="0" r="1" gradientTransform="translate(200 520) scale(160 30)"><stop offset="0.00" stop-color="rgb(0,2,0)"/><stop offset="0.35" stop-color="rgb(0,2,0)"/><stop offset="0.60" stop-color="rgb(0,1,0)"/><stop offset="0.80" stop-color="rgb(0,0,0)"/><stop offset="1.00" stop-color="rgb(0,0,0)"/></radialGradient><rect x="40" y="490" width="320" height="60" fill="url(#bg9)" style="mix-blend-mode:plus-lighter"/>
</g></g>
<linearGradient id="lg0" gradientUnits="userSpaceOnUse" x1="76" y1="0" x2="676" y2="0"><stop offset="0.0000" stop-color="#38598c"/><stop offset="0.0050" stop-color="#375b8d"/><stop offset="0.0100" stop-color="#365d8d"/><stop offset="0.0150" stop-color="#355f8d"/><stop offset="0.0167" stop-color="#355f8d"/><stop offset="0.0200" stop-color="#33628d"/><stop offset="0.0250" stop-color="#31668e"/><stop offset="0.0300" stop-color="#2f6b8e"/><stop offset="0.0317" stop-color="#2f6c8e"/><stop offset="0.0350" stop-color="#2b748e"/><stop offset="0.0400" stop-color="#27808e"/><stop offset="0.0417" stop-color="#25848e"/><stop offset="0.0450" stop-color="#218f8d"/><stop offset="0.0500" stop-color="#1f9e89"/><stop offset="0.0533" stop-color="#22a884"/><stop offset="0.0550" stop-color="#25ac82"/><stop offset="0.0600" stop-color="#31b57b"/><stop offset="0.0650" stop-color="#42be71"/><stop offset="0.0683" stop-color="#50c46a"/><stop offset="0.0700" stop-color="#56c667"/><stop offset="0.0750" stop-color="#6ccd5a"/><stop offset="0.0800" stop-color="#84d44b"/><stop offset="0.0850" stop-color="#9bd93c"/><stop offset="0.0900" stop-color="#b0dd2f"/><stop offset="0.0950" stop-color="#c8e020"/><stop offset="0.0967" stop-color="#cde11d"/><stop offset="0.1000" stop-color="#dfe318"/><stop offset="0.1050" stop-color="#f6e620"/><stop offset="0.1067" stop-color="#fde725"/><stop offset="0.1100" stop-color="#fde725"/><stop offset="0.1150" stop-color="#fde725"/><stop offset="0.1200" stop-color="#fde725"/><stop offset="0.1250" stop-color="#fde725"/><stop offset="0.1300" stop-color="#fde725"/><stop offset="0.1350" stop-color="#fde725"/><stop offset="0.1400" stop-color="#fde725"/><stop offset="0.1450" stop-color="#fde725"/><stop offset="0.1500" stop-color="#fde725"/><stop offset="0.1550" stop-color="#fde725"/><stop offset="0.1600" stop-color="#fde725"/><stop offset="0.1650" stop-color="#fde725"/><stop offset="0.1700" stop-color="#fde725"/><stop offset="0.1750" stop-color="#fde725"/><stop offset="0.1800" stop-color="#fde725"/><stop offset="0.1850" stop-color="#fde725"/><stop offset="0.1900" stop-color="#fde725"/><stop offset="0.1950" stop-color="#fde725"/><stop offset="0.5000" stop-color="#fde725"/><stop offset="0.8050" stop-color="#fde725"/><stop offset="0.8100" stop-color="#fde725"/><stop offset="0.8150" stop-color="#fde725"/><stop offset="0.8200" stop-color="#fde725"/><stop offset="0.8250" stop-color="#fde725"/><stop offset="0.8300" stop-color="#fde725"/><stop offset="0.8350" stop-color="#fde725"/><stop offset="0.8400" stop-color="#fde725"/><stop offset="0.8450" stop-color="#fde725"/><stop offset="0.8500" stop-color="#fde725"/><stop offset="0.8550" stop-color="#fde725"/><stop offset="0.8600" stop-color="#fde725"/><stop offset="0.8650" stop-color="#fde725"/><stop offset="0.8700" stop-color="#fde725"/><stop offset="0.8750" stop-color="#fde725"/><stop offset="0.8800" stop-color="#fde725"/><stop offset="0.8850" stop-color="#fde725"/><stop offset="0.8900" stop-color="#fde725"/><stop offset="0.8933" stop-color="#fde725"/><stop offset="0.8950" stop-color="#f6e620"/><stop offset="0.9000" stop-color="#dfe318"/><stop offset="0.9033" stop-color="#cde11d"/><stop offset="0.9050" stop-color="#c8e020"/><stop offset="0.9100" stop-color="#b0dd2f"/><stop offset="0.9150" stop-color="#9bd93c"/><stop offset="0.9200" stop-color="#84d44b"/><stop offset="0.9250" stop-color="#6ccd5a"/><stop offset="0.9300" stop-color="#56c667"/><stop offset="0.9317" stop-color="#50c46a"/><stop offset="0.9350" stop-color="#42be71"/><stop offset="0.9400" stop-color="#31b57b"/><stop offset="0.9450" stop-color="#25ac82"/><stop offset="0.9467" stop-color="#22a884"/><stop offset="0.9500" stop-color="#1f9e89"/><stop offset="0.9550" stop-color="#218f8d"/><stop offset="0.9583" stop-color="#25848e"/><stop offset="0.9600" stop-color="#27808e"/><stop offset="0.9650" stop-color="#2b748e"/><stop offset="0.9683" stop-color="#2f6c8e"/><stop offset="0.9700" stop-color="#2f6b8e"/><stop offset="0.9750" stop-color="#31668e"/><stop offset="0.9800" stop-color="#33628d"/><stop offset="0.9833" stop-color="#355f8d"/><stop offset="0.9850" stop-color="#355f8d"/><stop offset="0.9900" stop-color="#365d8d"/><stop offset="0.9950" stop-color="#375b8d"/><stop offset="1.0000" stop-color="#38598c"/></linearGradient>
<rect x="76" y="871" width="600" height="1" fill="url(#lg0)" shape-rendering="crispEdges"/>
<rect x="76" y="876" width="600" height="1" fill="url(#lg0)" shape-rendering="crispEdges"/>
<linearGradient id="lg1" gradientUnits="userSpaceOnUse" x1="76" y1="0" x2="676" y2="0"><stop offset="0.0000" stop-color="#440154"/><stop offset="0.0050" stop-color="#440154"/><stop offset="0.0083" stop-color="#460a5d"/><stop offset="0.0100" stop-color="#471164"/><stop offset="0.0150" stop-color="#482576"/><stop offset="0.0167" stop-color="#472d7b"/><stop offset="0.0200" stop-color="#453581"/><stop offset="0.0250" stop-color="#424186"/><stop offset="0.0300" stop-color="#3d4e8a"/><stop offset="0.0317" stop-color="#3b528b"/><stop offset="0.0350" stop-color="#375b8d"/><stop offset="0.0400" stop-color="#31688e"/><stop offset="0.0417" stop-color="#2f6c8e"/><stop offset="0.0450" stop-color="#2b748e"/><stop offset="0.0500" stop-color="#26828e"/><stop offset="0.0533" stop-color="#238a8d"/><stop offset="0.0550" stop-color="#218e8d"/><stop offset="0.0600" stop-color="#1f9a8a"/><stop offset="0.0650" stop-color="#21a685"/><stop offset="0.0683" stop-color="#28ae80"/><stop offset="0.0700" stop-color="#2cb17e"/><stop offset="0.0750" stop-color="#3bbb75"/><stop offset="0.0800" stop-color="#4ec36b"/><stop offset="0.0850" stop-color="#65cb5e"/><stop offset="0.0900" stop-color="#77d153"/><stop offset="0.0950" stop-color="#8bd646"/><stop offset="0.0967" stop-color="#93d741"/><stop offset="0.1000" stop-color="#9dd93b"/><stop offset="0.1050" stop-color="#b0dd2f"/><stop offset="0.1067" stop-color="#b5de2b"/><stop offset="0.1100" stop-color="#bddf26"/><stop offset="0.1150" stop-color="#cae11f"/><stop offset="0.1200" stop-color="#d8e219"/><stop offset="0.1250" stop-color="#dde318"/><stop offset="0.1300" stop-color="#e2e418"/><stop offset="0.1350" stop-color="#e7e419"/><stop offset="0.1400" stop-color="#ece51b"/><stop offset="0.1433" stop-color="#efe51c"/><stop offset="0.1450" stop-color="#efe51c"/><stop offset="0.1500" stop-color="#f1e51d"/><stop offset="0.1550" stop-color="#f1e51d"/><stop offset="0.1600" stop-color="#f1e51d"/><stop offset="0.1650" stop-color="#f4e61e"/><stop offset="0.1700" stop-color="#f4e61e"/><stop offset="0.1750" stop-color="#f6e620"/><stop offset="0.1800" stop-color="#f6e620"/><stop offset="0.1833" stop-color="#f6e620"/><stop offset="0.1850" stop-color="#f6e620"/><stop offset="0.1900" stop-color="#f6e620"/><stop offset="0.1950" stop-color="#f6e620"/><stop offset="0.5000" stop-color="#f6e620"/><stop offset="0.8050" stop-color="#f6e620"/><stop offset="0.8100" stop-color="#f6e620"/><stop offset="0.8150" stop-color="#f6e620"/><stop offset="0.8167" stop-color="#f6e620"/><stop offset="0.8200" stop-color="#f6e620"/><stop offset="0.8250" stop-color="#f6e620"/><stop offset="0.8300" stop-color="#f4e61e"/><stop offset="0.8350" stop-color="#f4e61e"/><stop offset="0.8400" stop-color="#f1e51d"/><stop offset="0.8450" stop-color="#f1e51d"/><stop offset="0.8500" stop-color="#f1e51d"/><stop offset="0.8550" stop-color="#efe51c"/><stop offset="0.8567" stop-color="#efe51c"/><stop offset="0.8600" stop-color="#ece51b"/><stop offset="0.8650" stop-color="#e7e419"/><stop offset="0.8700" stop-color="#e2e418"/><stop offset="0.8750" stop-color="#dde318"/><stop offset="0.8800" stop-color="#d8e219"/><stop offset="0.8850" stop-color="#cae11f"/><stop offset="0.8900" stop-color="#bddf26"/><stop offset="0.8933" stop-color="#b5de2b"/><stop offset="0.8950" stop-color="#b0dd2f"/><stop offset="0.9000" stop-color="#9dd93b"/><stop offset="0.9033" stop-color="#93d741"/><stop offset="0.9050" stop-color="#8bd646"/><stop offset="0.9100" stop-color="#77d153"/><stop offset="0.9150" stop-color="#65cb5e"/><stop offset="0.9200" stop-color="#4ec36b"/><stop offset="0.9250" stop-color="#3bbb75"/><stop offset="0.9300" stop-color="#2cb17e"/><stop offset="0.9317" stop-color="#28ae80"/><stop offset="0.9350" stop-color="#21a685"/><stop offset="0.9400" stop-color="#1f9a8a"/><stop offset="0.9450" stop-color="#218e8d"/><stop offset="0.9467" stop-color="#238a8d"/><stop offset="0.9500" stop-color="#26828e"/><stop offset="0.9550" stop-color="#2b748e"/><stop offset="0.9583" stop-color="#2f6c8e"/><stop offset="0.9600" stop-color="#31688e"/><stop offset="0.9650" stop-color="#375b8d"/><stop offset="0.9683" stop-color="#3b528b"/><stop offset="0.9700" stop-color="#3d4e8a"/><stop offset="0.9750" stop-color="#424186"/><stop offset="0.9800" stop-color="#453581"/><stop offset="0.9833" stop-color="#472d7b"/><stop offset="0.9850" stop-color="#482576"/><stop offset="0.9900" stop-color="#471164"/><stop offset="0.9917" stop-color="#460a5d"/><stop offset="0.9950" stop-color="#440154"/><stop offset="1.0000" stop-color="#440154"/></linearGradient>
<rect x="76" y="898" width="600" height="1" fill="url(#lg1)" shape-rendering="crispEdges"/>
<rect x="75.5" y="8.5" width="601.0" height="1547.0" fill="none" stroke="#000" stroke-width="1.1"/>
<rect x="739" y="9" width="18" height="1546" fill="url(#cbg)"/>
<rect x="738.5" y="8.5" width="19.0" height="1547.0" fill="none" stroke="#000" stroke-width="1.1"/>
<path d="M75.5 1517.5h-5M75.5 1417.5h-5M75.5 1317.5h-5M75.5 1216.5h-5M75.5 1116.5h-5M75.5 1016.5h-5M75.5 915.5h-5M75.5 815.5h-5M75.5 714.5h-5M75.5 614.5h-5M75.5 514.5h-5M75.5 413.5h-5M75.5 313.5h-5M75.5 213.5h-5M75.5 112.5h-5M75.5 12.5h-5M676.5 1220.5h5M676.5 886.5h5M676.5 551.5h5M676.5 217.5h5M167.5 1555.5v5M271.5 1555.5v5M376.5 1555.5v5M480.5 1555.5v5M584.5 1555.5v5M757.5 8.5h5M757.5 201.5h5M757.5 395.5h5M757.5 588.5h5M757.5 781.5h5M757.5 975.5h5M757.5 1168.5h5M757.5 1362.5h5M757.5 1555.5h5" stroke="#000" stroke-width="1.1" fill="none"/>
</svg>
<div class="t yl" style="top:1509.7px">13:27</div><div class="t yl" style="top:1409.7px">13:28</div><div class="t yl" style="top:1309.7px">13:29</div><div class="t yl" style="top:1208.7px">13:30</div><div class="t yl" style="top:1108.7px">13:31</div><div class="t yl" style="top:1008.7px">13:32</div><div class="t yl" style="top:907.7px">13:33</div><div class="t yl" style="top:807.7px">13:34</div><div class="t yl" style="top:706.7px">13:35</div><div class="t yl" style="top:606.7px">13:36</div><div class="t yl" style="top:506.7px">13:37</div><div class="t yl" style="top:405.7px">13:38</div><div class="t yl" style="top:305.7px">13:39</div><div class="t yl" style="top:205.7px">13:40</div><div class="t yl" style="top:104.7px">13:41</div><div class="t yl" style="top:4.7px">13:42</div>
<div class="t yr" style="top:1212.2px">200</div><div class="t yr" style="top:878.2px">400</div><div class="t yr" style="top:543.2px">600</div><div class="t yr" style="top:209.2px">800</div>
<div class="t xl" style="left:137.5px;top:1563px">−20</div><div class="t xl" style="left:241.5px;top:1563px">−10</div><div class="t xl" style="left:346.5px;top:1563px">0</div><div class="t xl" style="left:450.5px;top:1563px">10</div><div class="t xl" style="left:554.5px;top:1563px">20</div>
<div class="t cb" style="top:0.4px">−60</div><div class="t cb" style="top:193.4px">−65</div><div class="t cb" style="top:387.4px">−70</div><div class="t cb" style="top:580.4px">−75</div><div class="t cb" style="top:773.4px">−80</div><div class="t cb" style="top:967.4px">−85</div><div class="t cb" style="top:1160.4px">−90</div><div class="t cb" style="top:1354.4px">−95</div><div class="t cb" style="top:1547.4px">−100</div>
<div class="t xl" style="left:275.2px;width:200px;top:1581.5px">Frequency (kHz)</div>
<div class="t rot" style="left:-89.3px;top:773.9px">Time (UTC)</div>
<div class="t rot" style="left:622.5px;top:773.7px">Time (seconds)</div>
<div class="t rot" style="left:715.2px;top:773.5px">Power (dB)</div>
</body></html>
